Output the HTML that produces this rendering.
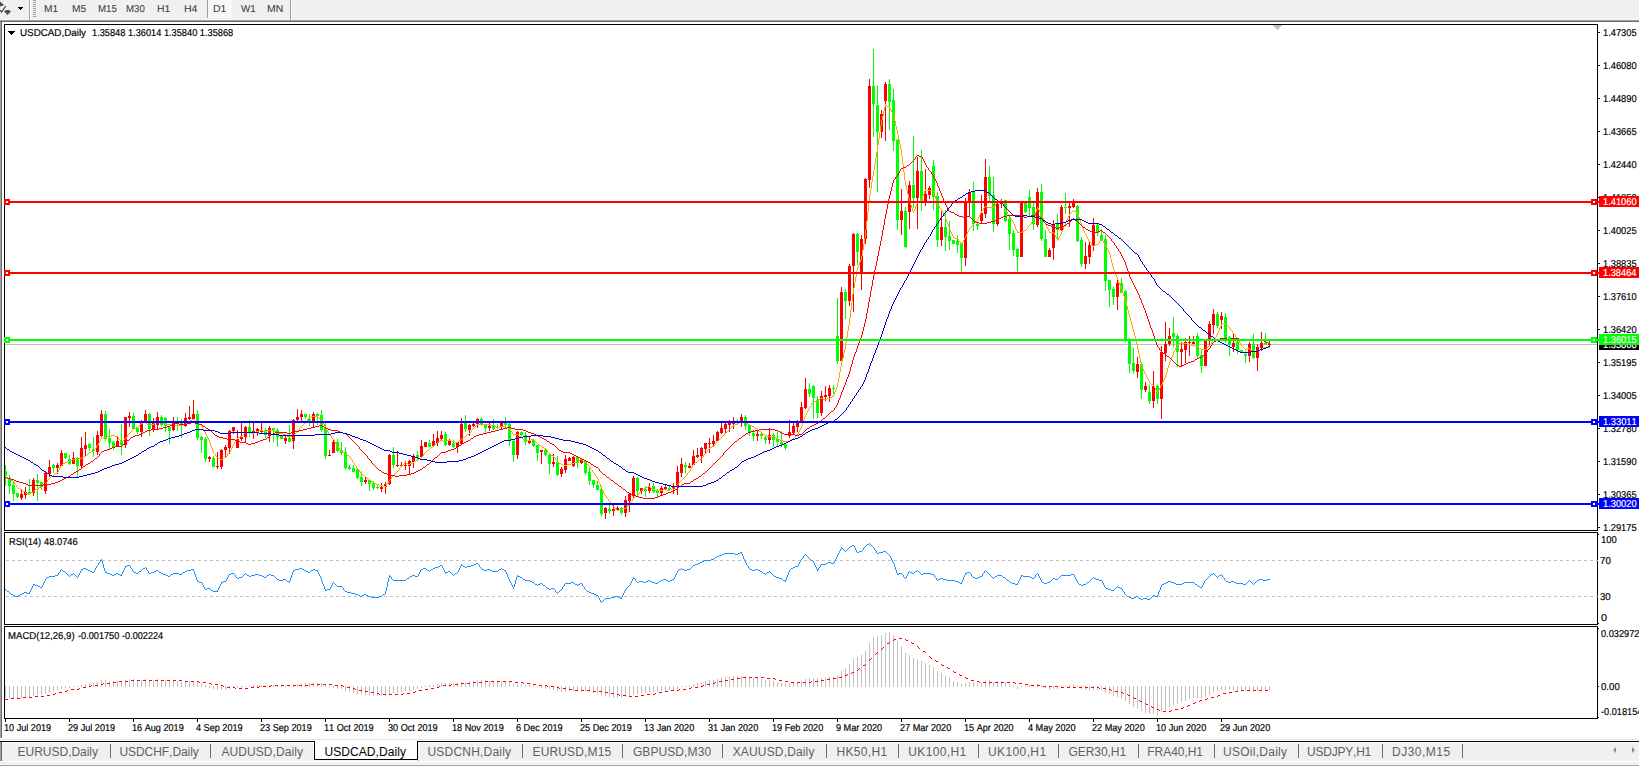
<!DOCTYPE html>
<html lang="en"><head><meta charset="utf-8"><title>USDCAD,Daily</title>
<style>
html,body{margin:0;padding:0;background:#fff;overflow:hidden}
body{font-kerning:none;width:1639px;height:767px;position:relative;overflow:hidden;font-family:"Liberation Sans",sans-serif;font-size:10px;color:#000}
.a{position:absolute;white-space:pre;line-height:12px;height:12px}
.g{font-size:10px;text-rendering:geometricPrecision;transform-origin:0 8px;-webkit-text-stroke:0.18px #000}
.tb{position:absolute;left:0;top:0;width:1639px;height:20px;background:#f0f0f0}
.sep{position:absolute;top:744px;width:1px;height:14px;background:#6d6d6d}
svg{position:absolute;left:0;top:0}
</style></head>
<body>

<div class="tb"></div>
<div style="position:absolute;left:0;top:19px;width:1639px;height:1px;background:#f7f7f7"></div>
<div style="position:absolute;left:0;top:20px;width:1639px;height:1px;background:#a0a0a0"></div>
<div style="position:absolute;left:0;top:21px;width:1639px;height:1px;background:#696969"></div>
<div style="position:absolute;left:0;top:22px;width:1px;height:716px;background:#a0a0a0"></div>
<div style="position:absolute;left:1px;top:22px;width:1px;height:716px;background:#696969"></div>
<div style="position:absolute;left:29px;top:0;width:1px;height:20px;background:#a0a0a0"></div>
<div style="position:absolute;left:30px;top:0;width:1px;height:20px;background:#fff"></div>
<div style="position:absolute;left:290px;top:0;width:1px;height:20px;background:#a0a0a0"></div>
<div style="position:absolute;left:291px;top:0;width:1px;height:20px;background:#fff"></div>
<div style="position:absolute;left:33px;top:0;width:3px;height:18px;background:repeating-linear-gradient(to bottom,#a0a0a0 0,#a0a0a0 1px,transparent 1px,transparent 2px)"></div>
<div style="position:absolute;left:207px;top:0;width:1px;height:18px;background:#a0a0a0"></div>
<div style="position:absolute;left:208px;top:0;width:24px;height:18px;background:#f8f8f8"></div>
<svg width="30" height="20" viewBox="0 0 30 20"><path d="M0 1.6 L4.2 5.2 L0 6.6Z" fill="#4d4d4d"/><path d="M0 10.2 L1.5 12 L5.8 6.2" fill="none" stroke="#3a3a3a" stroke-width="1.1"/><path d="M6 10 L9 10 L11 11.4 L7.5 15 L4 11.4Z" fill="#505050"/><path d="M18 7h5v1h-5zM19 8h3v1h-3zM20 9h1v1h-1z" fill="#000" shape-rendering="crispEdges"/></svg>
<svg width="1639" height="767" viewBox="0 0 1639 767" shape-rendering="crispEdges">
<rect x="5" y="344" width="1592" height="1" fill="#c0c0c0"/>
<path d="M1273 25h9v1h-9zM1274 26h7v1h-7zM1275 27h5v1h-5zM1276 28h3v1h-3zM1277 29h1v1h-1z" fill="#c0c0c0"/>
<path d="M5 465h1V486h-1ZM4 471h3V476h-3ZM9 475h1V494h-1ZM8 479h3V486h-3ZM13 482h1V501h-1ZM12 485h3V494h-3ZM17 493h1V498h-1ZM16 493h3V497h-3Z" fill="#00ff00"/>
<path d="M21 490h1V500h-1ZM20 494h3V498h-3ZM25 487h1V499h-1ZM24 492h3V495h-3Z" fill="#ff0000"/>
<path d="M29 479h1V495h-1ZM28 492h3V494h-3Z" fill="#00ff00"/>
<path d="M33 478h1V496h-1ZM32 480h3V493h-3Z" fill="#ff0000"/>
<path d="M37 474h1V501h-1ZM36 480h3V483h-3ZM41 482h1V490h-1ZM40 482h3V487h-3Z" fill="#00ff00"/>
<path d="M45 471h1V494h-1ZM44 473h3V491h-3ZM49 460h1V477h-1ZM48 467h3V474h-3Z" fill="#ff0000"/>
<path d="M53 464h1V473h-1ZM52 465h3V468h-3Z" fill="#00ff00"/>
<path d="M57 463h1V474h-1ZM56 465h3V468h-3ZM61 450h1V466h-1ZM60 453h3V466h-3Z" fill="#ff0000"/>
<path d="M65 453h1V459h-1ZM64 453h3V458h-3ZM69 455h1V465h-1ZM68 459h3V464h-3Z" fill="#00ff00"/>
<path d="M73 452h1V464h-1ZM72 458h3V464h-3Z" fill="#ff0000"/>
<path d="M77 457h1V477h-1ZM76 458h3V466h-3Z" fill="#00ff00"/>
<path d="M81 437h1V468h-1ZM80 448h3V466h-3ZM85 432h1V456h-1ZM84 445h3V449h-3Z" fill="#ff0000"/>
<path d="M89 443h1V451h-1ZM88 444h3V448h-3ZM93 437h1V457h-1ZM92 449h3V451h-3Z" fill="#00ff00"/>
<path d="M97 431h1V455h-1ZM96 435h3V452h-3ZM101 410h1V437h-1ZM100 414h3V436h-3Z" fill="#ff0000"/>
<path d="M105 411h1V441h-1ZM104 414h3V439h-3ZM109 429h1V449h-1ZM108 438h3V443h-3ZM113 441h1V450h-1ZM112 442h3V447h-3Z" fill="#00ff00"/>
<path d="M117 436h1V447h-1ZM116 441h3V447h-3Z" fill="#ff0000"/>
<path d="M121 424h1V455h-1ZM120 442h3V445h-3Z" fill="#00ff00"/>
<path d="M125 417h1V448h-1ZM124 417h3V445h-3ZM129 412h1V427h-1ZM128 416h3V418h-3Z" fill="#ff0000"/>
<path d="M133 413h1V429h-1ZM132 416h3V429h-3ZM137 427h1V434h-1ZM136 428h3V432h-3Z" fill="#00ff00"/>
<path d="M141 420h1V437h-1ZM140 423h3V432h-3ZM145 410h1V423h-1ZM144 414h3V423h-3Z" fill="#ff0000"/>
<path d="M149 413h1V436h-1ZM148 414h3V429h-3Z" fill="#00ff00"/>
<path d="M153 418h1V432h-1ZM152 423h3V429h-3ZM157 412h1V429h-1ZM156 417h3V425h-3Z" fill="#ff0000"/>
<path d="M161 415h1V427h-1ZM160 417h3V425h-3ZM165 417h1V432h-1ZM164 418h3V426h-3ZM169 426h1V444h-1ZM168 427h3V431h-3Z" fill="#00ff00"/>
<path d="M173 417h1V431h-1ZM172 423h3V430h-3Z" fill="#ff0000"/>
<path d="M177 417h1V431h-1ZM176 423h3V424h-3ZM181 419h1V438h-1ZM180 423h3V425h-3Z" fill="#00ff00"/>
<path d="M185 413h1V427h-1ZM184 418h3V426h-3ZM189 406h1V420h-1ZM188 417h3V419h-3ZM193 400h1V419h-1ZM192 414h3V419h-3Z" fill="#ff0000"/>
<path d="M197 410h1V440h-1ZM196 414h3V438h-3ZM201 436h1V453h-1ZM200 437h3V440h-3ZM205 437h1V462h-1ZM204 439h3V459h-3Z" fill="#00ff00"/>
<path d="M209 456h1V462h-1ZM208 457h3V459h-3Z" fill="#ff0000"/>
<path d="M213 456h1V467h-1ZM212 458h3V467h-3Z" fill="#00ff00"/>
<path d="M217 452h1V469h-1ZM216 466h3V467h-3ZM221 449h1V469h-1ZM220 450h3V467h-3ZM225 445h1V457h-1ZM224 447h3V450h-3ZM229 430h1V454h-1ZM228 431h3V448h-3ZM233 427h1V434h-1ZM232 427h3V431h-3ZM237 430h1V448h-1ZM236 439h3V448h-3ZM241 423h1V441h-1ZM240 437h3V439h-3ZM245 426h1V442h-1ZM244 427h3V437h-3Z" fill="#ff0000"/>
<path d="M249 420h1V437h-1ZM248 427h3V433h-3Z" fill="#00ff00"/>
<path d="M253 423h1V439h-1ZM252 431h3V433h-3ZM257 428h1V436h-1ZM256 429h3V431h-3ZM261 423h1V433h-1ZM260 430h3V432h-3Z" fill="#ff0000"/>
<path d="M265 428h1V438h-1ZM264 430h3V435h-3Z" fill="#00ff00"/>
<path d="M269 426h1V442h-1ZM268 428h3V436h-3Z" fill="#ff0000"/>
<path d="M273 428h1V442h-1ZM272 428h3V430h-3ZM277 428h1V447h-1ZM276 430h3V437h-3ZM281 435h1V439h-1ZM280 436h3V439h-3Z" fill="#00ff00"/>
<path d="M285 436h1V444h-1ZM284 438h3V441h-3Z" fill="#ff0000"/>
<path d="M289 425h1V442h-1ZM288 438h3V442h-3Z" fill="#00ff00"/>
<path d="M293 419h1V449h-1ZM292 420h3V441h-3ZM297 409h1V421h-1ZM296 417h3V420h-3ZM301 410h1V423h-1ZM300 414h3V417h-3Z" fill="#ff0000"/>
<path d="M305 414h1V419h-1ZM304 414h3V417h-3ZM309 414h1V426h-1ZM308 419h3V421h-3Z" fill="#00ff00"/>
<path d="M313 412h1V427h-1ZM312 414h3V421h-3Z" fill="#ff0000"/>
<path d="M317 413h1V425h-1ZM316 414h3V416h-3ZM321 410h1V432h-1ZM320 415h3V430h-3ZM325 423h1V459h-1ZM324 428h3V456h-3Z" fill="#00ff00"/>
<path d="M329 450h1V456h-1ZM328 455h3V456h-3ZM333 440h1V453h-1ZM332 442h3V453h-3Z" fill="#ff0000"/>
<path d="M337 439h1V452h-1ZM336 442h3V451h-3ZM341 442h1V455h-1ZM340 450h3V453h-3ZM345 447h1V470h-1ZM344 452h3V468h-3ZM349 465h1V470h-1ZM348 467h3V469h-3ZM353 465h1V472h-1ZM352 468h3V472h-3ZM357 468h1V479h-1ZM356 469h3V478h-3ZM361 471h1V486h-1ZM360 477h3V482h-3Z" fill="#00ff00"/>
<path d="M365 476h1V484h-1ZM364 480h3V482h-3Z" fill="#ff0000"/>
<path d="M369 479h1V491h-1ZM368 480h3V484h-3ZM373 481h1V490h-1ZM372 483h3V488h-3ZM377 485h1V489h-1ZM376 487h3V488h-3Z" fill="#00ff00"/>
<path d="M381 483h1V492h-1ZM380 487h3V489h-3ZM385 482h1V494h-1ZM384 484h3V487h-3ZM389 454h1V485h-1ZM388 455h3V484h-3Z" fill="#ff0000"/>
<path d="M393 447h1V468h-1ZM392 455h3V465h-3Z" fill="#00ff00"/>
<path d="M397 451h1V467h-1ZM396 465h3V466h-3ZM401 462h1V467h-1ZM400 465h3V466h-3ZM405 461h1V470h-1ZM404 465h3V466h-3ZM409 460h1V474h-1ZM408 461h3V466h-3ZM413 454h1V468h-1ZM412 456h3V462h-3Z" fill="#ff0000"/>
<path d="M417 451h1V461h-1ZM416 455h3V458h-3Z" fill="#00ff00"/>
<path d="M421 440h1V458h-1ZM420 446h3V457h-3ZM425 442h1V447h-1ZM424 442h3V447h-3Z" fill="#ff0000"/>
<path d="M429 440h1V447h-1ZM428 443h3V447h-3Z" fill="#00ff00"/>
<path d="M433 434h1V446h-1ZM432 441h3V446h-3ZM437 431h1V446h-1ZM436 438h3V443h-3ZM441 431h1V440h-1ZM440 435h3V439h-3Z" fill="#ff0000"/>
<path d="M445 432h1V446h-1ZM444 434h3V445h-3Z" fill="#00ff00"/>
<path d="M449 439h1V446h-1ZM448 441h3V445h-3Z" fill="#ff0000"/>
<path d="M453 440h1V448h-1ZM452 443h3V447h-3Z" fill="#00ff00"/>
<path d="M457 442h1V453h-1ZM456 442h3V447h-3ZM461 418h1V444h-1ZM460 424h3V444h-3Z" fill="#ff0000"/>
<path d="M465 415h1V432h-1ZM464 423h3V429h-3Z" fill="#00ff00"/>
<path d="M469 424h1V436h-1ZM468 425h3V430h-3ZM473 423h1V427h-1ZM472 424h3V426h-3ZM477 418h1V428h-1ZM476 419h3V424h-3Z" fill="#ff0000"/>
<path d="M481 417h1V426h-1ZM480 419h3V425h-3ZM485 425h1V433h-1ZM484 425h3V428h-3Z" fill="#00ff00"/>
<path d="M489 423h1V431h-1ZM488 426h3V428h-3Z" fill="#ff0000"/>
<path d="M493 419h1V430h-1ZM492 425h3V429h-3ZM497 424h1V429h-1ZM496 427h3V428h-3Z" fill="#00ff00"/>
<path d="M501 423h1V429h-1ZM500 423h3V426h-3Z" fill="#ff0000"/>
<path d="M505 417h1V428h-1ZM504 423h3V425h-3ZM509 423h1V446h-1ZM508 424h3V440h-3ZM513 440h1V462h-1ZM512 441h3V455h-3Z" fill="#00ff00"/>
<path d="M517 431h1V459h-1ZM516 432h3V455h-3Z" fill="#ff0000"/>
<path d="M521 431h1V436h-1ZM520 432h3V435h-3ZM525 432h1V445h-1ZM524 435h3V442h-3Z" fill="#00ff00"/>
<path d="M529 437h1V444h-1ZM528 441h3V443h-3Z" fill="#ff0000"/>
<path d="M533 439h1V447h-1ZM532 440h3V446h-3ZM537 445h1V461h-1ZM536 445h3V453h-3Z" fill="#00ff00"/>
<path d="M541 450h1V464h-1ZM540 450h3V452h-3Z" fill="#ff0000"/>
<path d="M545 449h1V456h-1ZM544 450h3V455h-3ZM549 454h1V474h-1ZM548 455h3V464h-3Z" fill="#00ff00"/>
<path d="M553 454h1V467h-1ZM552 462h3V464h-3Z" fill="#ff0000"/>
<path d="M557 456h1V476h-1ZM556 462h3V475h-3Z" fill="#00ff00"/>
<path d="M561 467h1V477h-1ZM560 469h3V474h-3ZM565 455h1V473h-1ZM564 459h3V470h-3ZM569 457h1V461h-1ZM568 458h3V461h-3ZM573 456h1V467h-1ZM572 457h3V466h-3Z" fill="#ff0000"/>
<path d="M577 457h1V468h-1ZM576 457h3V463h-3Z" fill="#00ff00"/>
<path d="M581 459h1V464h-1ZM580 460h3V463h-3Z" fill="#ff0000"/>
<path d="M585 461h1V475h-1ZM584 462h3V473h-3ZM589 468h1V485h-1ZM588 472h3V481h-3ZM593 480h1V488h-1ZM592 480h3V485h-3ZM597 481h1V490h-1ZM596 485h3V490h-3ZM601 486h1V516h-1ZM600 489h3V514h-3Z" fill="#00ff00"/>
<path d="M605 507h1V519h-1ZM604 508h3V513h-3Z" fill="#ff0000"/>
<path d="M609 503h1V514h-1ZM608 509h3V511h-3Z" fill="#00ff00"/>
<path d="M613 505h1V516h-1ZM612 509h3V511h-3ZM617 506h1V511h-1ZM616 508h3V510h-3Z" fill="#ff0000"/>
<path d="M621 507h1V515h-1ZM620 508h3V513h-3Z" fill="#00ff00"/>
<path d="M625 496h1V517h-1ZM624 500h3V513h-3ZM629 493h1V512h-1ZM628 494h3V501h-3ZM633 476h1V498h-1ZM632 478h3V496h-3Z" fill="#ff0000"/>
<path d="M637 477h1V495h-1ZM636 478h3V491h-3Z" fill="#00ff00"/>
<path d="M641 488h1V494h-1ZM640 488h3V491h-3Z" fill="#ff0000"/>
<path d="M645 486h1V497h-1ZM644 489h3V491h-3Z" fill="#00ff00"/>
<path d="M649 483h1V493h-1ZM648 487h3V491h-3Z" fill="#ff0000"/>
<path d="M653 483h1V493h-1ZM652 486h3V492h-3ZM657 489h1V497h-1ZM656 490h3V493h-3Z" fill="#00ff00"/>
<path d="M661 486h1V496h-1ZM660 488h3V493h-3ZM665 485h1V489h-1ZM664 487h3V489h-3Z" fill="#ff0000"/>
<path d="M669 486h1V490h-1ZM668 488h3V490h-3Z" fill="#00ff00"/>
<path d="M673 483h1V494h-1ZM672 487h3V489h-3ZM677 466h1V495h-1ZM676 472h3V487h-3ZM681 458h1V477h-1ZM680 464h3V473h-3Z" fill="#ff0000"/>
<path d="M685 462h1V473h-1ZM684 465h3V467h-3Z" fill="#00ff00"/>
<path d="M689 463h1V468h-1ZM688 466h3V468h-3ZM693 450h1V465h-1ZM692 456h3V465h-3ZM697 448h1V458h-1ZM696 455h3V457h-3ZM701 447h1V463h-1ZM700 448h3V456h-3ZM705 443h1V453h-1ZM704 443h3V449h-3ZM709 438h1V453h-1ZM708 443h3V444h-3ZM713 435h1V446h-1ZM712 441h3V444h-3ZM717 431h1V441h-1ZM716 432h3V441h-3ZM721 423h1V434h-1ZM720 428h3V433h-3ZM725 423h1V434h-1ZM724 424h3V429h-3ZM729 420h1V432h-1ZM728 423h3V425h-3ZM733 417h1V429h-1ZM732 422h3V424h-3Z" fill="#ff0000"/>
<path d="M737 419h1V424h-1ZM736 422h3V423h-3Z" fill="#00ff00"/>
<path d="M741 414h1V427h-1ZM740 417h3V423h-3Z" fill="#ff0000"/>
<path d="M745 415h1V430h-1ZM744 417h3V426h-3ZM749 424h1V436h-1ZM748 425h3V433h-3ZM753 430h1V441h-1ZM752 433h3V436h-3Z" fill="#00ff00"/>
<path d="M757 429h1V441h-1ZM756 434h3V436h-3Z" fill="#ff0000"/>
<path d="M761 433h1V439h-1ZM760 434h3V436h-3ZM765 436h1V444h-1ZM764 437h3V440h-3Z" fill="#00ff00"/>
<path d="M769 428h1V444h-1ZM768 435h3V440h-3Z" fill="#ff0000"/>
<path d="M773 433h1V447h-1ZM772 435h3V440h-3ZM777 432h1V446h-1ZM776 439h3V442h-3ZM781 431h1V447h-1ZM780 442h3V444h-3ZM785 444h1V450h-1ZM784 444h3V448h-3Z" fill="#00ff00"/>
<path d="M789 420h1V438h-1ZM788 432h3V436h-3ZM793 423h1V435h-1ZM792 426h3V433h-3ZM797 420h1V432h-1ZM796 423h3V427h-3ZM801 402h1V423h-1ZM800 407h3V423h-3ZM805 378h1V409h-1ZM804 389h3V408h-3Z" fill="#ff0000"/>
<path d="M809 383h1V397h-1ZM808 389h3V394h-3ZM813 385h1V419h-1ZM812 386h3V398h-3ZM817 396h1V418h-1ZM816 400h3V413h-3Z" fill="#00ff00"/>
<path d="M821 391h1V416h-1ZM820 396h3V413h-3ZM825 386h1V401h-1ZM824 395h3V397h-3ZM829 385h1V402h-1ZM828 388h3V396h-3Z" fill="#ff0000"/>
<path d="M833 385h1V394h-1ZM832 388h3V389h-3ZM837 298h1V364h-1ZM836 336h3V361h-3Z" fill="#00ff00"/>
<path d="M841 287h1V361h-1ZM840 292h3V361h-3Z" fill="#ff0000"/>
<path d="M845 289h1V319h-1ZM844 292h3V301h-3Z" fill="#00ff00"/>
<path d="M849 264h1V306h-1ZM848 266h3V301h-3ZM853 233h1V312h-1ZM852 234h3V266h-3Z" fill="#ff0000"/>
<path d="M857 233h1V265h-1ZM856 234h3V252h-3Z" fill="#00ff00"/>
<path d="M861 235h1V290h-1ZM860 239h3V272h-3ZM865 178h1V244h-1ZM864 179h3V239h-3ZM869 79h1V188h-1ZM868 86h3V180h-3Z" fill="#ff0000"/>
<path d="M873 49h1V137h-1ZM872 86h3V104h-3ZM877 85h1V192h-1ZM876 105h3V132h-3Z" fill="#00ff00"/>
<path d="M881 110h1V138h-1ZM880 114h3V132h-3ZM885 82h1V141h-1ZM884 84h3V101h-3Z" fill="#ff0000"/>
<path d="M889 79h1V130h-1ZM888 84h3V102h-3ZM893 89h1V151h-1ZM892 100h3V141h-3ZM897 139h1V230h-1ZM896 140h3V220h-3Z" fill="#00ff00"/>
<path d="M901 189h1V235h-1ZM900 211h3V220h-3Z" fill="#ff0000"/>
<path d="M905 207h1V248h-1ZM904 211h3V247h-3Z" fill="#00ff00"/>
<path d="M909 181h1V229h-1ZM908 185h3V212h-3Z" fill="#ff0000"/>
<path d="M913 136h1V208h-1ZM912 185h3V198h-3Z" fill="#00ff00"/>
<path d="M917 157h1V229h-1ZM916 171h3V198h-3Z" fill="#ff0000"/>
<path d="M921 150h1V211h-1ZM920 171h3V201h-3Z" fill="#00ff00"/>
<path d="M925 169h1V206h-1ZM924 194h3V201h-3ZM929 186h1V199h-1ZM928 188h3V195h-3Z" fill="#ff0000"/>
<path d="M933 160h1V210h-1ZM932 166h3V197h-3ZM937 192h1V247h-1ZM936 196h3V240h-3Z" fill="#00ff00"/>
<path d="M941 211h1V246h-1ZM940 227h3V240h-3Z" fill="#ff0000"/>
<path d="M945 210h1V251h-1ZM944 227h3V237h-3ZM949 221h1V250h-1ZM948 236h3V241h-3ZM953 240h1V244h-1ZM952 240h3V244h-3ZM957 235h1V253h-1ZM956 241h3V245h-3ZM961 243h1V272h-1ZM960 244h3V258h-3Z" fill="#00ff00"/>
<path d="M965 198h1V266h-1ZM964 201h3V258h-3ZM969 189h1V216h-1ZM968 193h3V201h-3Z" fill="#ff0000"/>
<path d="M973 182h1V231h-1ZM972 191h3V224h-3ZM977 223h1V230h-1ZM976 224h3V226h-3Z" fill="#00ff00"/>
<path d="M981 195h1V224h-1ZM980 213h3V221h-3ZM985 159h1V218h-1ZM984 177h3V214h-3Z" fill="#ff0000"/>
<path d="M989 166h1V201h-1ZM988 177h3V196h-3ZM993 177h1V232h-1ZM992 195h3V224h-3Z" fill="#00ff00"/>
<path d="M997 203h1V226h-1ZM996 204h3V224h-3ZM1001 199h1V208h-1ZM1000 201h3V204h-3Z" fill="#ff0000"/>
<path d="M1005 200h1V222h-1ZM1004 200h3V221h-3ZM1009 217h1V250h-1ZM1008 219h3V234h-3ZM1013 230h1V256h-1ZM1012 233h3V250h-3ZM1017 248h1V272h-1ZM1016 249h3V257h-3Z" fill="#00ff00"/>
<path d="M1021 202h1V257h-1ZM1020 202h3V257h-3Z" fill="#ff0000"/>
<path d="M1025 203h1V213h-1ZM1024 203h3V212h-3ZM1029 190h1V216h-1ZM1028 197h3V208h-3ZM1033 203h1V230h-1ZM1032 207h3V224h-3Z" fill="#00ff00"/>
<path d="M1037 188h1V227h-1ZM1036 192h3V225h-3Z" fill="#ff0000"/>
<path d="M1041 184h1V241h-1ZM1040 192h3V239h-3ZM1045 230h1V257h-1ZM1044 239h3V257h-3Z" fill="#00ff00"/>
<path d="M1049 248h1V257h-1ZM1048 250h3V257h-3ZM1053 220h1V260h-1ZM1052 224h3V248h-3Z" fill="#ff0000"/>
<path d="M1057 214h1V240h-1ZM1056 224h3V230h-3Z" fill="#00ff00"/>
<path d="M1061 205h1V231h-1ZM1060 207h3V230h-3Z" fill="#ff0000"/>
<path d="M1065 193h1V214h-1ZM1064 207h3V208h-3Z" fill="#00ff00"/>
<path d="M1069 203h1V227h-1ZM1068 206h3V208h-3ZM1073 199h1V208h-1ZM1072 203h3V207h-3Z" fill="#ff0000"/>
<path d="M1077 205h1V242h-1ZM1076 206h3V241h-3ZM1081 237h1V267h-1ZM1080 240h3V264h-3Z" fill="#00ff00"/>
<path d="M1085 242h1V269h-1ZM1084 256h3V264h-3ZM1089 241h1V264h-1ZM1088 245h3V257h-3ZM1093 218h1V251h-1ZM1092 225h3V245h-3Z" fill="#ff0000"/>
<path d="M1097 224h1V236h-1ZM1096 225h3V233h-3ZM1101 229h1V241h-1ZM1100 235h3V240h-3ZM1105 235h1V291h-1ZM1104 239h3V281h-3ZM1109 280h1V307h-1ZM1108 280h3V290h-3ZM1113 287h1V305h-1ZM1112 289h3V297h-3Z" fill="#00ff00"/>
<path d="M1117 279h1V310h-1ZM1116 283h3V297h-3Z" fill="#ff0000"/>
<path d="M1121 278h1V293h-1ZM1120 283h3V293h-3ZM1125 290h1V342h-1ZM1124 291h3V340h-3ZM1129 338h1V373h-1ZM1128 339h3V364h-3ZM1133 348h1V374h-1ZM1132 363h3V371h-3Z" fill="#00ff00"/>
<path d="M1137 357h1V378h-1ZM1136 364h3V372h-3Z" fill="#ff0000"/>
<path d="M1141 362h1V399h-1ZM1140 364h3V390h-3Z" fill="#00ff00"/>
<path d="M1145 382h1V392h-1ZM1144 386h3V390h-3Z" fill="#ff0000"/>
<path d="M1149 385h1V404h-1ZM1148 392h3V401h-3Z" fill="#00ff00"/>
<path d="M1153 371h1V408h-1ZM1152 386h3V401h-3Z" fill="#ff0000"/>
<path d="M1157 385h1V404h-1ZM1156 386h3V399h-3Z" fill="#00ff00"/>
<path d="M1161 346h1V419h-1ZM1160 352h3V399h-3ZM1165 322h1V361h-1ZM1164 344h3V353h-3ZM1169 328h1V346h-1ZM1168 336h3V344h-3Z" fill="#ff0000"/>
<path d="M1173 317h1V347h-1ZM1172 333h3V337h-3ZM1177 334h1V367h-1ZM1176 336h3V352h-3Z" fill="#00ff00"/>
<path d="M1181 342h1V367h-1ZM1180 349h3V352h-3ZM1185 338h1V363h-1ZM1184 342h3V350h-3ZM1189 336h1V356h-1ZM1188 342h3V343h-3ZM1193 336h1V344h-1ZM1192 342h3V344h-3Z" fill="#ff0000"/>
<path d="M1197 333h1V358h-1ZM1196 336h3V356h-3ZM1201 349h1V373h-1ZM1200 355h3V366h-3Z" fill="#00ff00"/>
<path d="M1205 340h1V366h-1ZM1204 341h3V366h-3ZM1209 321h1V345h-1ZM1208 324h3V341h-3ZM1213 309h1V334h-1ZM1212 314h3V325h-3Z" fill="#ff0000"/>
<path d="M1217 312h1V328h-1ZM1216 314h3V326h-3Z" fill="#00ff00"/>
<path d="M1221 312h1V329h-1ZM1220 316h3V320h-3Z" fill="#ff0000"/>
<path d="M1225 313h1V343h-1ZM1224 317h3V338h-3ZM1229 336h1V356h-1ZM1228 337h3V345h-3Z" fill="#00ff00"/>
<path d="M1233 334h1V352h-1ZM1232 343h3V347h-3Z" fill="#ff0000"/>
<path d="M1237 340h1V354h-1ZM1236 342h3V350h-3ZM1241 350h1V352h-1ZM1240 350h3V352h-3ZM1245 351h1V363h-1ZM1244 354h3V356h-3Z" fill="#00ff00"/>
<path d="M1249 342h1V362h-1ZM1248 344h3V356h-3Z" fill="#ff0000"/>
<path d="M1253 334h1V359h-1ZM1252 344h3V358h-3Z" fill="#00ff00"/>
<path d="M1257 344h1V371h-1ZM1256 347h3V358h-3ZM1261 332h1V351h-1ZM1260 343h3V348h-3Z" fill="#ff0000"/>
<path d="M1265 333h1V345h-1ZM1264 343h3V345h-3Z" fill="#00ff00"/>
<path d="M1269 341h1V346h-1ZM1268 344h3V345h-3Z" fill="#ff0000"/>
<path d="M5 476h1v1h-1zM6 477h1v1h-1zM7 477h1v1h-1zM8 478h1v1h-1zM9 478h1v1h-1zM10 479h1v1h-1zM11 480h1v1h-1zM12 480h1v1h-1zM13 481h1v1h-1zM14 482h1v2h-1zM15 484h1v1h-1zM16 485h1v2h-1zM17 487h1v1h-1zM18 488h1v1h-1zM19 488h1v1h-1zM20 489h1v1h-1zM21 489h1v1h-1zM22 490h1v1h-1zM23 491h1v1h-1zM24 491h1v1h-1zM25 492h1v1h-1zM26 493h1v1h-1zM27 493h1v1h-1zM28 494h1v1h-1zM29 494h1v1h-1zM30 493h1v1h-1zM31 492h1v1h-1zM32 492h1v1h-1zM33 491h1v1h-1zM34 490h1v1h-1zM35 489h1v1h-1zM36 489h1v1h-1zM37 488h1v1h-1zM38 488h1v1h-1zM39 487h1v1h-1zM40 487h1v1h-1zM41 487h1v1h-1zM42 486h1v1h-1zM43 485h1v1h-1zM44 484h1v1h-1zM45 483h1v1h-1zM46 482h1v1h-1zM47 480h1v2h-1zM48 479h1v1h-1zM49 478h1v1h-1zM50 477h1v1h-1zM51 476h1v1h-1zM52 476h1v1h-1zM53 475h1v1h-1zM54 474h1v1h-1zM55 473h1v1h-1zM56 473h1v1h-1zM57 472h1v1h-1zM58 470h1v2h-1zM59 468h1v2h-1zM60 466h1v2h-1zM61 465h1v1h-1zM62 464h1v1h-1zM63 463h1v1h-1zM64 463h1v1h-1zM65 462h1v1h-1zM66 462h1v1h-1zM67 461h1v1h-1zM68 461h1v1h-1zM69 461h1v1h-1zM70 460h1v1h-1zM71 460h1v1h-1zM72 459h1v1h-1zM73 459h1v1h-1zM74 459h1v1h-1zM75 459h1v1h-1zM76 459h1v1h-1zM77 459h1v1h-1zM78 459h1v1h-1zM79 458h1v1h-1zM80 458h1v1h-1zM81 458h1v1h-1zM82 457h1v1h-1zM83 457h1v1h-1zM84 456h1v1h-1zM85 456h1v1h-1zM86 455h1v1h-1zM87 454h1v1h-1zM88 453h1v1h-1zM89 452h1v1h-1zM90 452h1v1h-1zM91 451h1v1h-1zM92 451h1v1h-1zM93 451h1v1h-1zM94 449h1v2h-1zM95 448h1v1h-1zM96 446h1v2h-1zM97 445h1v1h-1zM98 443h1v2h-1zM99 441h1v2h-1zM100 439h1v2h-1zM101 438h1v1h-1zM102 438h1v1h-1zM103 437h1v1h-1zM104 437h1v1h-1zM105 437h1v1h-1zM106 437h1v1h-1zM107 436h1v1h-1zM108 436h1v1h-1zM109 436h1v1h-1zM110 436h1v1h-1zM111 435h1v1h-1zM112 435h1v1h-1zM113 435h1v1h-1zM114 435h1v1h-1zM115 436h1v1h-1zM116 436h1v1h-1zM117 436h1v1h-1zM118 437h1v2h-1zM119 439h1v1h-1zM120 440h1v2h-1zM121 442h1v1h-1zM122 441h1v1h-1zM123 440h1v1h-1zM124 439h1v1h-1zM125 438h1v1h-1zM126 437h1v1h-1zM127 435h1v2h-1zM128 434h1v1h-1zM129 433h1v1h-1zM130 432h1v1h-1zM131 431h1v1h-1zM132 430h1v1h-1zM133 429h1v1h-1zM134 428h1v1h-1zM135 428h1v1h-1zM136 427h1v1h-1zM137 427h1v1h-1zM138 426h1v1h-1zM139 425h1v1h-1zM140 424h1v1h-1zM141 423h1v1h-1zM142 423h1v1h-1zM143 422h1v1h-1zM144 422h1v1h-1zM145 422h1v1h-1zM146 423h1v1h-1zM147 424h1v1h-1zM148 424h1v1h-1zM149 425h1v1h-1zM150 425h1v1h-1zM151 424h1v1h-1zM152 424h1v1h-1zM153 424h1v1h-1zM154 423h1v1h-1zM155 422h1v1h-1zM156 422h1v1h-1zM157 421h1v1h-1zM158 421h1v1h-1zM159 421h1v1h-1zM160 421h1v1h-1zM161 421h1v1h-1zM162 422h1v1h-1zM163 423h1v1h-1zM164 423h1v1h-1zM165 424h1v1h-1zM166 424h1v1h-1zM167 424h1v1h-1zM168 424h1v1h-1zM169 424h1v1h-1zM170 424h1v1h-1zM171 424h1v1h-1zM172 424h1v1h-1zM173 424h1v1h-1zM174 424h1v1h-1zM175 425h1v1h-1zM176 425h1v1h-1zM177 425h1v1h-1zM178 425h1v1h-1zM179 425h1v1h-1zM180 425h1v1h-1zM181 425h1v1h-1zM182 425h1v1h-1zM183 424h1v1h-1zM184 424h1v1h-1zM185 424h1v1h-1zM186 423h1v1h-1zM187 422h1v1h-1zM188 422h1v1h-1zM189 421h1v1h-1zM190 420h1v1h-1zM191 420h1v1h-1zM192 419h1v1h-1zM193 419h1v1h-1zM194 420h1v1h-1zM195 421h1v1h-1zM196 421h1v1h-1zM197 422h1v1h-1zM198 423h1v1h-1zM199 424h1v1h-1zM200 424h1v1h-1zM201 425h1v1h-1zM202 426h1v2h-1zM203 428h1v2h-1zM204 430h1v2h-1zM205 432h1v2h-1zM206 434h1v2h-1zM207 436h1v2h-1zM208 438h1v2h-1zM209 440h1v3h-1zM210 443h1v3h-1zM211 446h1v2h-1zM212 448h1v3h-1zM213 451h1v2h-1zM214 453h1v1h-1zM215 454h1v2h-1zM216 456h1v1h-1zM217 457h1v1h-1zM218 458h1v1h-1zM219 458h1v1h-1zM220 459h1v1h-1zM221 459h1v1h-1zM222 458h1v1h-1zM223 458h1v1h-1zM224 457h1v1h-1zM225 457h1v1h-1zM226 456h1v1h-1zM227 454h1v2h-1zM228 453h1v1h-1zM229 452h1v1h-1zM230 450h1v2h-1zM231 448h1v2h-1zM232 446h1v2h-1zM233 444h1v2h-1zM234 442h1v2h-1zM235 441h1v1h-1zM236 439h1v2h-1zM237 438h1v1h-1zM238 437h1v1h-1zM239 437h1v1h-1zM240 436h1v1h-1zM241 436h1v1h-1zM242 435h1v1h-1zM243 434h1v1h-1zM244 433h1v1h-1zM245 432h1v1h-1zM246 432h1v1h-1zM247 432h1v1h-1zM248 432h1v1h-1zM249 432h1v1h-1zM250 432h1v1h-1zM251 433h1v1h-1zM252 433h1v1h-1zM253 433h1v1h-1zM254 432h1v1h-1zM255 432h1v1h-1zM256 431h1v1h-1zM257 431h1v1h-1zM258 431h1v1h-1zM259 430h1v1h-1zM260 430h1v1h-1zM261 430h1v1h-1zM262 430h1v1h-1zM263 431h1v1h-1zM264 431h1v1h-1zM265 431h1v1h-1zM266 431h1v1h-1zM267 430h1v1h-1zM268 430h1v1h-1zM269 430h1v1h-1zM270 430h1v1h-1zM271 430h1v1h-1zM272 430h1v1h-1zM273 430h1v1h-1zM274 431h1v1h-1zM275 431h1v1h-1zM276 432h1v1h-1zM277 432h1v1h-1zM278 432h1v1h-1zM279 433h1v1h-1zM280 433h1v1h-1zM281 433h1v1h-1zM282 433h1v1h-1zM283 434h1v1h-1zM284 434h1v1h-1zM285 434h1v1h-1zM286 435h1v1h-1zM287 436h1v1h-1zM288 436h1v1h-1zM289 437h1v1h-1zM290 436h1v1h-1zM291 436h1v1h-1zM292 435h1v1h-1zM293 435h1v1h-1zM294 434h1v1h-1zM295 433h1v1h-1zM296 432h1v1h-1zM297 431h1v1h-1zM298 430h1v1h-1zM299 428h1v2h-1zM300 427h1v1h-1zM301 426h1v1h-1zM302 425h1v1h-1zM303 424h1v1h-1zM304 423h1v1h-1zM305 422h1v1h-1zM306 421h1v1h-1zM307 419h1v2h-1zM308 418h1v1h-1zM309 417h1v1h-1zM310 417h1v1h-1zM311 416h1v1h-1zM312 416h1v1h-1zM313 416h1v1h-1zM314 416h1v1h-1zM315 416h1v1h-1zM316 416h1v1h-1zM317 416h1v1h-1zM318 417h1v1h-1zM319 418h1v1h-1zM320 418h1v1h-1zM321 419h1v1h-1zM322 420h1v2h-1zM323 422h1v2h-1zM324 424h1v2h-1zM325 426h1v2h-1zM326 428h1v2h-1zM327 430h1v2h-1zM328 432h1v2h-1zM329 434h1v1h-1zM330 435h1v1h-1zM331 436h1v2h-1zM332 438h1v1h-1zM333 439h1v1h-1zM334 440h1v2h-1zM335 442h1v2h-1zM336 444h1v2h-1zM337 446h1v1h-1zM338 447h1v1h-1zM339 448h1v2h-1zM340 450h1v1h-1zM341 451h1v1h-1zM342 452h1v1h-1zM343 452h1v1h-1zM344 453h1v1h-1zM345 453h1v1h-1zM346 454h1v1h-1zM347 455h1v1h-1zM348 455h1v1h-1zM349 456h1v1h-1zM350 457h1v2h-1zM351 459h1v1h-1zM352 460h1v2h-1zM353 462h1v1h-1zM354 463h1v2h-1zM355 465h1v1h-1zM356 466h1v2h-1zM357 468h1v1h-1zM358 469h1v1h-1zM359 470h1v2h-1zM360 472h1v1h-1zM361 473h1v1h-1zM362 474h1v1h-1zM363 475h1v1h-1zM364 475h1v1h-1zM365 476h1v1h-1zM366 477h1v1h-1zM367 478h1v1h-1zM368 478h1v1h-1zM369 479h1v1h-1zM370 480h1v1h-1zM371 481h1v1h-1zM372 481h1v1h-1zM373 482h1v1h-1zM374 483h1v1h-1zM375 483h1v1h-1zM376 484h1v1h-1zM377 484h1v1h-1zM378 484h1v1h-1zM379 485h1v1h-1zM380 485h1v1h-1zM381 485h1v1h-1zM382 485h1v1h-1zM383 486h1v1h-1zM384 486h1v1h-1zM385 486h1v1h-1zM386 484h1v2h-1zM387 483h1v1h-1zM388 481h1v2h-1zM389 480h1v1h-1zM390 479h1v1h-1zM391 477h1v2h-1zM392 476h1v1h-1zM393 475h1v1h-1zM394 474h1v1h-1zM395 473h1v1h-1zM396 472h1v1h-1zM397 471h1v1h-1zM398 470h1v1h-1zM399 468h1v2h-1zM400 467h1v1h-1zM401 466h1v1h-1zM402 465h1v1h-1zM403 464h1v1h-1zM404 463h1v1h-1zM405 462h1v1h-1zM406 463h1v1h-1zM407 463h1v1h-1zM408 464h1v1h-1zM409 464h1v1h-1zM410 463h1v1h-1zM411 463h1v1h-1zM412 462h1v1h-1zM413 462h1v1h-1zM414 461h1v1h-1zM415 461h1v1h-1zM416 460h1v1h-1zM417 460h1v1h-1zM418 459h1v1h-1zM419 458h1v1h-1zM420 458h1v1h-1zM421 457h1v1h-1zM422 456h1v1h-1zM423 454h1v2h-1zM424 453h1v1h-1zM425 452h1v1h-1zM426 451h1v1h-1zM427 450h1v1h-1zM428 450h1v1h-1zM429 449h1v1h-1zM430 448h1v1h-1zM431 447h1v1h-1zM432 447h1v1h-1zM433 446h1v1h-1zM434 445h1v1h-1zM435 444h1v1h-1zM436 443h1v1h-1zM437 442h1v1h-1zM438 441h1v1h-1zM439 441h1v1h-1zM440 440h1v1h-1zM441 440h1v1h-1zM442 440h1v1h-1zM443 441h1v1h-1zM444 441h1v1h-1zM445 441h1v1h-1zM446 441h1v1h-1zM447 440h1v1h-1zM448 440h1v1h-1zM449 440h1v1h-1zM450 440h1v1h-1zM451 441h1v1h-1zM452 441h1v1h-1zM453 441h1v1h-1zM454 441h1v1h-1zM455 442h1v1h-1zM456 442h1v1h-1zM457 442h1v1h-1zM458 441h1v1h-1zM459 440h1v1h-1zM460 440h1v1h-1zM461 439h1v1h-1zM462 438h1v1h-1zM463 437h1v1h-1zM464 437h1v1h-1zM465 436h1v1h-1zM466 435h1v1h-1zM467 434h1v1h-1zM468 434h1v1h-1zM469 433h1v1h-1zM470 432h1v1h-1zM471 430h1v2h-1zM472 429h1v1h-1zM473 428h1v1h-1zM474 427h1v1h-1zM475 426h1v1h-1zM476 425h1v1h-1zM477 424h1v1h-1zM478 424h1v1h-1zM479 424h1v1h-1zM480 424h1v1h-1zM481 424h1v1h-1zM482 424h1v1h-1zM483 424h1v1h-1zM484 424h1v1h-1zM485 424h1v1h-1zM486 424h1v1h-1zM487 424h1v1h-1zM488 424h1v1h-1zM489 424h1v1h-1zM490 424h1v1h-1zM491 425h1v1h-1zM492 425h1v1h-1zM493 425h1v1h-1zM494 426h1v1h-1zM495 426h1v1h-1zM496 427h1v1h-1zM497 427h1v1h-1zM498 427h1v1h-1zM499 426h1v1h-1zM500 426h1v1h-1zM501 426h1v1h-1zM502 426h1v1h-1zM503 426h1v1h-1zM504 426h1v1h-1zM505 426h1v1h-1zM506 427h1v1h-1zM507 427h1v1h-1zM508 428h1v1h-1zM509 428h1v1h-1zM510 429h1v2h-1zM511 431h1v1h-1zM512 432h1v2h-1zM513 434h1v1h-1zM514 434h1v1h-1zM515 434h1v1h-1zM516 434h1v1h-1zM517 434h1v1h-1zM518 435h1v1h-1zM519 436h1v1h-1zM520 436h1v1h-1zM521 437h1v1h-1zM522 438h1v1h-1zM523 439h1v1h-1zM524 439h1v1h-1zM525 440h1v1h-1zM526 440h1v1h-1zM527 440h1v1h-1zM528 440h1v1h-1zM529 440h1v1h-1zM530 440h1v1h-1zM531 439h1v1h-1zM532 439h1v1h-1zM533 439h1v1h-1zM534 440h1v1h-1zM535 441h1v1h-1zM536 442h1v1h-1zM537 443h1v1h-1zM538 444h1v1h-1zM539 445h1v1h-1zM540 445h1v1h-1zM541 446h1v1h-1zM542 447h1v1h-1zM543 447h1v1h-1zM544 448h1v1h-1zM545 448h1v1h-1zM546 449h1v1h-1zM547 450h1v2h-1zM548 452h1v1h-1zM549 453h1v1h-1zM550 454h1v1h-1zM551 455h1v1h-1zM552 455h1v1h-1zM553 456h1v1h-1zM554 457h1v1h-1zM555 458h1v2h-1zM556 460h1v1h-1zM557 461h1v1h-1zM558 462h1v1h-1zM559 463h1v1h-1zM560 463h1v1h-1zM561 464h1v1h-1zM562 464h1v1h-1zM563 465h1v1h-1zM564 465h1v1h-1zM565 465h1v1h-1zM566 465h1v1h-1zM567 464h1v1h-1zM568 464h1v1h-1zM569 464h1v1h-1zM570 464h1v1h-1zM571 463h1v1h-1zM572 463h1v1h-1zM573 463h1v1h-1zM574 462h1v1h-1zM575 462h1v1h-1zM576 461h1v1h-1zM577 461h1v1h-1zM578 460h1v1h-1zM579 460h1v1h-1zM580 459h1v1h-1zM581 459h1v1h-1zM582 460h1v1h-1zM583 461h1v1h-1zM584 461h1v1h-1zM585 462h1v1h-1zM586 463h1v1h-1zM587 464h1v1h-1zM588 465h1v1h-1zM589 466h1v1h-1zM590 467h1v2h-1zM591 469h1v1h-1zM592 470h1v2h-1zM593 472h1v1h-1zM594 473h1v1h-1zM595 474h1v2h-1zM596 476h1v1h-1zM597 477h1v2h-1zM598 479h1v3h-1zM599 482h1v2h-1zM600 484h1v3h-1zM601 487h1v2h-1zM602 489h1v2h-1zM603 491h1v2h-1zM604 493h1v2h-1zM605 495h1v1h-1zM606 496h1v2h-1zM607 498h1v1h-1zM608 499h1v2h-1zM609 501h1v1h-1zM610 502h1v1h-1zM611 503h1v2h-1zM612 505h1v1h-1zM613 506h1v1h-1zM614 507h1v1h-1zM615 508h1v1h-1zM616 509h1v1h-1zM617 510h1v1h-1zM618 510h1v1h-1zM619 509h1v1h-1zM620 509h1v1h-1zM621 509h1v1h-1zM622 509h1v1h-1zM623 508h1v1h-1zM624 508h1v1h-1zM625 508h1v1h-1zM626 507h1v1h-1zM627 506h1v1h-1zM628 505h1v1h-1zM629 504h1v1h-1zM630 502h1v2h-1zM631 501h1v1h-1zM632 499h1v2h-1zM633 498h1v1h-1zM634 497h1v1h-1zM635 496h1v1h-1zM636 496h1v1h-1zM637 495h1v1h-1zM638 494h1v1h-1zM639 492h1v2h-1zM640 491h1v1h-1zM641 490h1v1h-1zM642 489h1v1h-1zM643 489h1v1h-1zM644 488h1v1h-1zM645 488h1v1h-1zM646 487h1v1h-1zM647 487h1v1h-1zM648 486h1v1h-1zM649 486h1v1h-1zM650 487h1v1h-1zM651 488h1v1h-1zM652 488h1v1h-1zM653 489h1v1h-1zM654 489h1v1h-1zM655 490h1v1h-1zM656 490h1v1h-1zM657 490h1v1h-1zM658 490h1v1h-1zM659 490h1v1h-1zM660 490h1v1h-1zM661 490h1v1h-1zM662 490h1v1h-1zM663 489h1v1h-1zM664 489h1v1h-1zM665 489h1v1h-1zM666 489h1v1h-1zM667 490h1v1h-1zM668 490h1v1h-1zM669 490h1v1h-1zM670 489h1v1h-1zM671 489h1v1h-1zM672 488h1v1h-1zM673 488h1v1h-1zM674 487h1v1h-1zM675 486h1v1h-1zM676 485h1v1h-1zM677 484h1v1h-1zM678 483h1v1h-1zM679 482h1v1h-1zM680 481h1v1h-1zM681 480h1v1h-1zM682 479h1v1h-1zM683 478h1v1h-1zM684 477h1v1h-1zM685 476h1v1h-1zM686 475h1v1h-1zM687 473h1v2h-1zM688 472h1v1h-1zM689 471h1v1h-1zM690 469h1v2h-1zM691 467h1v2h-1zM692 465h1v2h-1zM693 464h1v1h-1zM694 463h1v1h-1zM695 462h1v1h-1zM696 462h1v1h-1zM697 461h1v1h-1zM698 460h1v1h-1zM699 459h1v1h-1zM700 459h1v1h-1zM701 458h1v1h-1zM702 457h1v1h-1zM703 455h1v2h-1zM704 454h1v1h-1zM705 453h1v1h-1zM706 452h1v1h-1zM707 450h1v2h-1zM708 449h1v1h-1zM709 448h1v1h-1zM710 447h1v1h-1zM711 447h1v1h-1zM712 446h1v1h-1zM713 446h1v1h-1zM714 445h1v1h-1zM715 443h1v2h-1zM716 442h1v1h-1zM717 441h1v1h-1zM718 440h1v1h-1zM719 439h1v1h-1zM720 438h1v1h-1zM721 437h1v1h-1zM722 436h1v1h-1zM723 435h1v1h-1zM724 434h1v1h-1zM725 433h1v1h-1zM726 432h1v1h-1zM727 431h1v1h-1zM728 430h1v1h-1zM729 429h1v1h-1zM730 428h1v1h-1zM731 427h1v1h-1zM732 426h1v1h-1zM733 425h1v1h-1zM734 425h1v1h-1zM735 424h1v1h-1zM736 424h1v1h-1zM737 424h1v1h-1zM738 423h1v1h-1zM739 422h1v1h-1zM740 422h1v1h-1zM741 421h1v1h-1zM742 421h1v1h-1zM743 422h1v1h-1zM744 422h1v1h-1zM745 422h1v1h-1zM746 423h1v1h-1zM747 423h1v1h-1zM748 424h1v1h-1zM749 424h1v1h-1zM750 425h1v1h-1zM751 425h1v1h-1zM752 426h1v1h-1zM753 426h1v1h-1zM754 427h1v1h-1zM755 428h1v1h-1zM756 428h1v1h-1zM757 429h1v1h-1zM758 430h1v1h-1zM759 431h1v1h-1zM760 431h1v1h-1zM761 432h1v1h-1zM762 433h1v1h-1zM763 434h1v1h-1zM764 434h1v1h-1zM765 435h1v1h-1zM766 435h1v1h-1zM767 436h1v1h-1zM768 436h1v1h-1zM769 436h1v1h-1zM770 436h1v1h-1zM771 436h1v1h-1zM772 436h1v1h-1zM773 436h1v1h-1zM774 437h1v1h-1zM775 437h1v1h-1zM776 438h1v1h-1zM777 438h1v1h-1zM778 439h1v1h-1zM779 439h1v1h-1zM780 440h1v1h-1zM781 440h1v1h-1zM782 440h1v1h-1zM783 441h1v1h-1zM784 441h1v1h-1zM785 441h1v1h-1zM786 441h1v1h-1zM787 441h1v1h-1zM788 441h1v1h-1zM789 441h1v1h-1zM790 440h1v1h-1zM791 439h1v1h-1zM792 439h1v1h-1zM793 438h1v1h-1zM794 437h1v1h-1zM795 436h1v1h-1zM796 435h1v1h-1zM797 434h1v1h-1zM798 432h1v2h-1zM799 430h1v2h-1zM800 428h1v2h-1zM801 426h1v2h-1zM802 423h1v3h-1zM803 420h1v3h-1zM804 417h1v3h-1zM805 415h1v2h-1zM806 413h1v2h-1zM807 411h1v2h-1zM808 409h1v2h-1zM809 407h1v2h-1zM810 406h1v1h-1zM811 404h1v2h-1zM812 403h1v1h-1zM813 402h1v1h-1zM814 401h1v1h-1zM815 401h1v1h-1zM816 400h1v1h-1zM817 400h1v1h-1zM818 399h1v1h-1zM819 399h1v1h-1zM820 398h1v1h-1zM821 398h1v1h-1zM822 398h1v1h-1zM823 399h1v1h-1zM824 399h1v1h-1zM825 399h1v1h-1zM826 399h1v1h-1zM827 398h1v1h-1zM828 398h1v1h-1zM829 398h1v1h-1zM830 397h1v1h-1zM831 397h1v1h-1zM832 396h1v1h-1zM833 395h1v2h-1zM834 392h1v3h-1zM835 390h1v2h-1zM836 387h1v3h-1zM837 383h1v4h-1zM838 378h1v5h-1zM839 372h1v6h-1zM840 367h1v5h-1zM841 362h1v5h-1zM842 358h1v4h-1zM843 353h1v5h-1zM844 349h1v4h-1zM845 343h1v6h-1zM846 337h1v6h-1zM847 331h1v6h-1zM848 325h1v6h-1zM849 318h1v7h-1zM850 310h1v8h-1zM851 302h1v8h-1zM852 294h1v8h-1zM853 288h1v6h-1zM854 282h1v6h-1zM855 277h1v5h-1zM856 271h1v6h-1zM857 267h1v4h-1zM858 265h1v2h-1zM859 262h1v3h-1zM860 260h1v2h-1zM861 256h1v4h-1zM862 250h1v6h-1zM863 244h1v6h-1zM864 238h1v6h-1zM865 230h1v8h-1zM866 221h1v9h-1zM867 212h1v9h-1zM868 203h1v9h-1zM869 195h1v8h-1zM870 189h1v6h-1zM871 182h1v7h-1zM872 176h1v6h-1zM873 170h1v6h-1zM874 164h1v6h-1zM875 158h1v6h-1zM876 152h1v6h-1zM877 145h1v7h-1zM878 139h1v6h-1zM879 132h1v7h-1zM880 126h1v6h-1zM881 120h1v6h-1zM882 116h1v4h-1zM883 111h1v5h-1zM884 107h1v4h-1zM885 104h1v3h-1zM886 105h1v1h-1zM887 106h1v1h-1zM888 106h1v1h-1zM889 107h1v1h-1zM890 108h1v2h-1zM891 110h1v2h-1zM892 112h1v2h-1zM893 114h1v3h-1zM894 117h1v4h-1zM895 121h1v5h-1zM896 126h1v4h-1zM897 130h1v5h-1zM898 135h1v5h-1zM899 140h1v4h-1zM900 144h1v5h-1zM901 149h1v7h-1zM902 156h1v8h-1zM903 164h1v8h-1zM904 172h1v8h-1zM905 180h1v6h-1zM906 186h1v4h-1zM907 190h1v4h-1zM908 194h1v4h-1zM909 198h1v4h-1zM910 202h1v3h-1zM911 205h1v3h-1zM912 208h1v3h-1zM913 211h1v2h-1zM914 209h1v2h-1zM915 206h1v3h-1zM916 204h1v2h-1zM917 202h1v2h-1zM918 201h1v1h-1zM919 201h1v1h-1zM920 200h1v1h-1zM921 199h1v2h-1zM922 196h1v3h-1zM923 194h1v2h-1zM924 191h1v3h-1zM925 189h1v2h-1zM926 189h1v1h-1zM927 190h1v1h-1zM928 190h1v1h-1zM929 190h1v1h-1zM930 190h1v1h-1zM931 190h1v1h-1zM932 190h1v1h-1zM933 190h1v2h-1zM934 192h1v4h-1zM935 196h1v3h-1zM936 199h1v4h-1zM937 203h1v2h-1zM938 205h1v1h-1zM939 206h1v2h-1zM940 208h1v1h-1zM941 209h1v1h-1zM942 210h1v2h-1zM943 212h1v2h-1zM944 214h1v2h-1zM945 216h1v3h-1zM946 219h1v3h-1zM947 222h1v2h-1zM948 224h1v3h-1zM949 227h1v3h-1zM950 230h1v2h-1zM951 232h1v2h-1zM952 234h1v2h-1zM953 236h1v2h-1zM954 237h1v1h-1zM955 238h1v1h-1zM956 238h1v1h-1zM957 238h1v1h-1zM958 239h1v2h-1zM959 241h1v1h-1zM960 242h1v2h-1zM961 244h1v1h-1zM962 242h1v2h-1zM963 240h1v2h-1zM964 238h1v2h-1zM965 236h1v2h-1zM966 234h1v2h-1zM967 232h1v2h-1zM968 230h1v2h-1zM969 228h1v2h-1zM970 227h1v1h-1zM971 226h1v1h-1zM972 225h1v1h-1zM973 224h1v1h-1zM974 223h1v1h-1zM975 222h1v1h-1zM976 221h1v1h-1zM977 219h1v2h-1zM978 217h1v2h-1zM979 215h1v2h-1zM980 213h1v2h-1zM981 211h1v2h-1zM982 210h1v1h-1zM983 208h1v2h-1zM984 207h1v1h-1zM985 206h1v1h-1zM986 206h1v1h-1zM987 207h1v1h-1zM988 207h1v1h-1zM989 207h1v1h-1zM990 207h1v1h-1zM991 207h1v1h-1zM992 207h1v1h-1zM993 207h1v1h-1zM994 206h1v1h-1zM995 204h1v2h-1zM996 203h1v1h-1zM997 202h1v1h-1zM998 201h1v1h-1zM999 201h1v1h-1zM1000 200h1v1h-1zM1001 200h1v2h-1zM1002 202h1v2h-1zM1003 204h1v2h-1zM1004 206h1v2h-1zM1005 208h1v2h-1zM1006 210h1v2h-1zM1007 212h1v2h-1zM1008 214h1v2h-1zM1009 216h1v1h-1zM1010 217h1v2h-1zM1011 219h1v1h-1zM1012 220h1v2h-1zM1013 222h1v2h-1zM1014 224h1v2h-1zM1015 226h1v3h-1zM1016 229h1v2h-1zM1017 231h1v2h-1zM1018 232h1v1h-1zM1019 232h1v1h-1zM1020 232h1v1h-1zM1021 232h1v1h-1zM1022 231h1v1h-1zM1023 231h1v1h-1zM1024 230h1v1h-1zM1025 230h1v1h-1zM1026 229h1v1h-1zM1027 227h1v2h-1zM1028 226h1v1h-1zM1029 225h1v1h-1zM1030 224h1v1h-1zM1031 222h1v2h-1zM1032 221h1v1h-1zM1033 219h1v2h-1zM1034 216h1v3h-1zM1035 212h1v4h-1zM1036 209h1v3h-1zM1037 207h1v2h-1zM1038 208h1v2h-1zM1039 210h1v2h-1zM1040 212h1v2h-1zM1041 214h1v2h-1zM1042 216h1v2h-1zM1043 218h1v3h-1zM1044 221h1v2h-1zM1045 223h1v2h-1zM1046 225h1v2h-1zM1047 227h1v2h-1zM1048 229h1v2h-1zM1049 231h1v2h-1zM1050 232h1v1h-1zM1051 232h1v1h-1zM1052 232h1v1h-1zM1053 232h1v1h-1zM1054 233h1v2h-1zM1055 235h1v2h-1zM1056 237h1v2h-1zM1057 239h1v2h-1zM1058 238h1v2h-1zM1059 236h1v2h-1zM1060 234h1v2h-1zM1061 232h1v2h-1zM1062 230h1v2h-1zM1063 227h1v3h-1zM1064 225h1v2h-1zM1065 222h1v3h-1zM1066 220h1v2h-1zM1067 218h1v2h-1zM1068 216h1v2h-1zM1069 214h1v2h-1zM1070 213h1v1h-1zM1071 212h1v1h-1zM1072 211h1v1h-1zM1073 210h1v1h-1zM1074 211h1v1h-1zM1075 211h1v1h-1zM1076 212h1v1h-1zM1077 212h1v2h-1zM1078 214h1v3h-1zM1079 217h1v3h-1zM1080 220h1v3h-1zM1081 223h1v3h-1zM1082 226h1v2h-1zM1083 228h1v3h-1zM1084 231h1v2h-1zM1085 233h1v2h-1zM1086 235h1v2h-1zM1087 237h1v2h-1zM1088 239h1v2h-1zM1089 241h1v1h-1zM1090 242h1v1h-1zM1091 243h1v2h-1zM1092 245h1v1h-1zM1093 246h1v1h-1zM1094 245h1v1h-1zM1095 245h1v1h-1zM1096 244h1v1h-1zM1097 244h1v1h-1zM1098 243h1v1h-1zM1099 241h1v2h-1zM1100 240h1v1h-1zM1101 239h1v1h-1zM1102 240h1v1h-1zM1103 241h1v2h-1zM1104 243h1v1h-1zM1105 244h1v2h-1zM1106 246h1v2h-1zM1107 248h1v2h-1zM1108 250h1v2h-1zM1109 252h1v3h-1zM1110 255h1v4h-1zM1111 259h1v4h-1zM1112 263h1v4h-1zM1113 267h1v3h-1zM1114 270h1v2h-1zM1115 272h1v3h-1zM1116 275h1v2h-1zM1117 277h1v3h-1zM1118 280h1v2h-1zM1119 282h1v3h-1zM1120 285h1v2h-1zM1121 287h1v3h-1zM1122 290h1v3h-1zM1123 293h1v3h-1zM1124 296h1v3h-1zM1125 299h1v3h-1zM1126 302h1v4h-1zM1127 306h1v4h-1zM1128 310h1v4h-1zM1129 314h1v3h-1zM1130 317h1v4h-1zM1131 321h1v4h-1zM1132 325h1v4h-1zM1133 329h1v3h-1zM1134 332h1v4h-1zM1135 336h1v4h-1zM1136 340h1v4h-1zM1137 344h1v5h-1zM1138 349h1v5h-1zM1139 354h1v4h-1zM1140 358h1v5h-1zM1141 363h1v4h-1zM1142 367h1v2h-1zM1143 369h1v2h-1zM1144 371h1v2h-1zM1145 373h1v2h-1zM1146 375h1v2h-1zM1147 377h1v2h-1zM1148 379h1v2h-1zM1149 381h1v2h-1zM1150 383h1v1h-1zM1151 384h1v1h-1zM1152 384h1v1h-1zM1153 385h1v1h-1zM1154 386h1v2h-1zM1155 388h1v2h-1zM1156 390h1v2h-1zM1157 392h1v1h-1zM1158 390h1v2h-1zM1159 388h1v2h-1zM1160 386h1v2h-1zM1161 384h1v2h-1zM1162 382h1v2h-1zM1163 380h1v2h-1zM1164 378h1v2h-1zM1165 375h1v3h-1zM1166 372h1v3h-1zM1167 368h1v4h-1zM1168 365h1v3h-1zM1169 362h1v3h-1zM1170 360h1v2h-1zM1171 357h1v3h-1zM1172 355h1v2h-1zM1173 352h1v3h-1zM1174 350h1v2h-1zM1175 348h1v2h-1zM1176 346h1v2h-1zM1177 344h1v2h-1zM1178 344h1v1h-1zM1179 343h1v1h-1zM1180 343h1v1h-1zM1181 343h1v1h-1zM1182 343h1v1h-1zM1183 343h1v1h-1zM1184 343h1v1h-1zM1185 343h1v1h-1zM1186 343h1v1h-1zM1187 344h1v1h-1zM1188 344h1v1h-1zM1189 344h1v1h-1zM1190 344h1v1h-1zM1191 345h1v1h-1zM1192 345h1v1h-1zM1193 345h1v1h-1zM1194 345h1v1h-1zM1195 346h1v1h-1zM1196 346h1v1h-1zM1197 346h1v1h-1zM1198 347h1v1h-1zM1199 348h1v1h-1zM1200 348h1v1h-1zM1201 349h1v1h-1zM1202 349h1v1h-1zM1203 349h1v1h-1zM1204 349h1v1h-1zM1205 349h1v1h-1zM1206 348h1v1h-1zM1207 347h1v1h-1zM1208 346h1v1h-1zM1209 345h1v1h-1zM1210 344h1v1h-1zM1211 342h1v2h-1zM1212 341h1v1h-1zM1213 340h1v1h-1zM1214 338h1v2h-1zM1215 337h1v1h-1zM1216 335h1v2h-1zM1217 333h1v2h-1zM1218 331h1v2h-1zM1219 328h1v3h-1zM1220 326h1v2h-1zM1221 324h1v2h-1zM1222 324h1v1h-1zM1223 323h1v1h-1zM1224 323h1v1h-1zM1225 323h1v1h-1zM1226 324h1v1h-1zM1227 325h1v1h-1zM1228 326h1v1h-1zM1229 327h1v1h-1zM1230 328h1v2h-1zM1231 330h1v1h-1zM1232 331h1v2h-1zM1233 333h1v1h-1zM1234 334h1v1h-1zM1235 335h1v2h-1zM1236 337h1v1h-1zM1237 338h1v1h-1zM1238 339h1v2h-1zM1239 341h1v2h-1zM1240 343h1v2h-1zM1241 345h1v1h-1zM1242 346h1v1h-1zM1243 347h1v1h-1zM1244 348h1v1h-1zM1245 349h1v1h-1zM1246 349h1v1h-1zM1247 348h1v1h-1zM1248 348h1v1h-1zM1249 348h1v1h-1zM1250 349h1v1h-1zM1251 350h1v1h-1zM1252 351h1v1h-1zM1253 352h1v1h-1zM1254 352h1v1h-1zM1255 351h1v1h-1zM1256 351h1v1h-1zM1257 351h1v1h-1zM1258 350h1v1h-1zM1259 350h1v1h-1zM1260 349h1v1h-1zM1261 349h1v1h-1zM1262 348h1v1h-1zM1263 348h1v1h-1zM1264 347h1v1h-1zM1265 347h1v1h-1zM1266 347h1v1h-1zM1267 347h1v1h-1zM1268 347h1v1h-1zM1269 347h1v1h-1z" fill="#ffa500"/>
<path d="M5 477h2v1h-2zM7 478h4v1h-4zM11 479h3v1h-3zM14 480h2v1h-2zM16 481h3v1h-3zM19 482h4v1h-4zM23 483h3v1h-3zM26 484h2v1h-2zM28 485h15v1h-15zM43 484h8v1h-8zM51 483h4v1h-4zM55 482h3v1h-3zM58 481h2v1h-2zM60 480h2v1h-2zM62 479h2v1h-2zM64 478h2v1h-2zM66 477h2v1h-2zM68 476h2v1h-2zM70 475h1v1h-1zM71 474h2v1h-2zM73 473h1v1h-1zM74 472h2v1h-2zM76 471h2v1h-2zM78 470h1v1h-1zM79 469h2v1h-2zM81 468h1v1h-1zM82 467h1v1h-1zM83 466h2v1h-2zM85 465h1v1h-1zM86 464h2v1h-2zM88 463h2v1h-2zM90 462h1v1h-1zM91 461h2v1h-2zM93 460h1v1h-1zM94 459h1v1h-1zM95 458h2v1h-2zM97 457h1v1h-1zM98 456h1v1h-1zM99 454h1v1h-1zM99 455h1v1h-1zM100 453h1v1h-1zM101 452h1v1h-1zM102 451h2v1h-2zM104 450h3v1h-3zM107 449h3v1h-3zM110 448h2v1h-2zM112 447h3v1h-3zM115 446h7v1h-7zM122 445h1v1h-1zM123 444h1v1h-1zM124 443h1v1h-1zM125 442h1v1h-1zM126 441h1v1h-1zM127 440h2v1h-2zM129 439h1v1h-1zM130 438h1v1h-1zM131 437h2v1h-2zM133 436h2v1h-2zM135 435h4v1h-4zM139 434h3v1h-3zM142 433h1v1h-1zM143 432h2v1h-2zM145 431h2v1h-2zM147 430h4v1h-4zM151 429h8v1h-8zM159 428h4v1h-4zM163 427h4v1h-4zM167 426h3v1h-3zM170 425h2v1h-2zM172 424h3v1h-3zM175 423h4v1h-4zM179 424h8v1h-8zM187 423h4v1h-4zM191 422h4v1h-4zM195 423h4v1h-4zM199 424h3v1h-3zM202 425h1v1h-1zM203 426h2v1h-2zM205 427h1v1h-1zM206 428h2v1h-2zM208 429h2v1h-2zM210 430h1v1h-1zM211 431h1v1h-1zM212 432h1v1h-1zM213 433h1v1h-1zM214 434h1v1h-1zM215 435h2v1h-2zM217 436h2v1h-2zM219 437h4v1h-4zM223 438h4v1h-4zM227 439h8v1h-8zM235 440h3v1h-3zM238 441h2v1h-2zM240 442h6v1h-6zM246 443h2v1h-2zM248 444h3v1h-3zM251 443h4v1h-4zM255 442h3v1h-3zM258 441h2v1h-2zM260 440h3v1h-3zM263 439h3v1h-3zM266 438h1v1h-1zM267 437h2v1h-2zM269 436h1v1h-1zM270 435h1v1h-1zM271 434h2v1h-2zM273 433h2v1h-2zM275 432h12v1h-12zM287 433h4v1h-4zM291 432h4v1h-4zM295 431h4v1h-4zM299 430h4v1h-4zM303 429h4v1h-4zM307 428h4v1h-4zM311 427h4v1h-4zM315 426h4v1h-4zM319 425h3v1h-3zM322 426h2v1h-2zM324 427h2v1h-2zM326 428h2v1h-2zM328 429h3v1h-3zM331 430h7v1h-7zM338 431h2v1h-2zM340 432h3v1h-3zM343 433h3v1h-3zM346 434h1v1h-1zM347 435h1v1h-1zM348 436h1v1h-1zM349 437h1v1h-1zM350 438h1v1h-1zM351 439h1v1h-1zM352 440h1v1h-1zM353 441h1v1h-1zM354 442h1v1h-1zM355 443h1v1h-1zM356 444h1v1h-1zM357 445h1v1h-1zM358 446h1v1h-1zM359 447h1v1h-1zM359 448h1v1h-1zM360 449h1v1h-1zM361 450h1v1h-1zM362 451h1v1h-1zM363 452h1v1h-1zM364 453h1v1h-1zM365 454h1v1h-1zM366 455h1v1h-1zM367 456h1v1h-1zM367 457h1v1h-1zM368 458h1v1h-1zM369 459h1v1h-1zM370 460h1v1h-1zM371 461h1v1h-1zM371 462h1v1h-1zM372 463h1v1h-1zM373 464h1v1h-1zM374 465h1v1h-1zM375 466h1v1h-1zM376 467h1v1h-1zM377 468h1v1h-1zM378 469h1v1h-1zM379 470h2v1h-2zM381 471h1v1h-1zM382 472h2v1h-2zM384 473h3v1h-3zM387 474h4v1h-4zM391 475h4v1h-4zM395 476h4v1h-4zM399 475h8v1h-8zM407 474h4v1h-4zM411 473h3v1h-3zM414 472h2v1h-2zM416 471h2v1h-2zM418 470h2v1h-2zM420 469h2v1h-2zM422 468h1v1h-1zM423 467h2v1h-2zM425 466h1v1h-1zM426 465h1v1h-1zM427 464h2v1h-2zM429 463h1v1h-1zM430 462h1v1h-1zM431 461h1v1h-1zM432 460h1v1h-1zM433 459h1v1h-1zM434 458h1v1h-1zM435 457h2v1h-2zM437 456h1v1h-1zM438 455h1v1h-1zM439 454h1v1h-1zM440 453h1v1h-1zM441 452h5v1h-5zM446 451h2v1h-2zM448 450h3v1h-3zM451 449h3v1h-3zM454 448h2v1h-2zM456 447h2v1h-2zM458 446h1v1h-1zM459 445h2v1h-2zM461 444h1v1h-1zM462 443h2v1h-2zM464 442h2v1h-2zM466 441h2v1h-2zM468 440h2v1h-2zM470 439h1v1h-1zM471 438h2v1h-2zM473 437h1v1h-1zM474 436h2v1h-2zM476 435h3v1h-3zM479 434h4v1h-4zM483 433h4v1h-4zM487 432h4v1h-4zM491 431h4v1h-4zM495 430h4v1h-4zM499 429h4v1h-4zM503 428h4v1h-4zM507 427h4v1h-4zM511 428h4v1h-4zM515 429h8v1h-8zM523 430h3v1h-3zM526 431h2v1h-2zM528 432h3v1h-3zM531 433h3v1h-3zM534 434h2v1h-2zM536 435h2v1h-2zM538 436h2v1h-2zM540 437h2v1h-2zM542 438h2v1h-2zM544 439h2v1h-2zM546 440h1v1h-1zM547 441h2v1h-2zM549 442h1v1h-1zM550 443h2v1h-2zM552 444h2v1h-2zM554 445h1v1h-1zM555 446h1v1h-1zM556 447h1v1h-1zM557 448h1v1h-1zM558 449h1v1h-1zM559 450h2v1h-2zM561 451h2v1h-2zM563 452h7v1h-7zM570 453h2v1h-2zM572 454h2v1h-2zM574 455h2v1h-2zM576 456h2v1h-2zM578 457h2v1h-2zM580 458h2v1h-2zM582 459h2v1h-2zM584 460h2v1h-2zM586 461h2v1h-2zM588 462h2v1h-2zM590 463h1v1h-1zM591 464h2v1h-2zM593 465h1v1h-1zM594 466h2v1h-2zM596 467h2v1h-2zM598 468h1v1h-1zM599 469h1v1h-1zM599 470h1v1h-1zM600 471h1v1h-1zM601 472h1v1h-1zM602 473h1v1h-1zM603 474h2v1h-2zM605 475h1v1h-1zM606 476h1v1h-1zM607 477h2v1h-2zM609 478h1v1h-1zM610 479h1v1h-1zM611 480h2v1h-2zM613 481h1v1h-1zM614 482h1v1h-1zM615 483h2v1h-2zM617 484h1v1h-1zM618 485h1v1h-1zM619 486h2v1h-2zM621 487h1v1h-1zM622 488h1v1h-1zM623 489h2v1h-2zM625 490h1v1h-1zM626 491h1v1h-1zM627 492h2v1h-2zM629 493h2v1h-2zM631 494h3v1h-3zM634 495h2v1h-2zM636 496h3v1h-3zM639 497h4v1h-4zM643 498h12v1h-12zM655 497h3v1h-3zM658 496h2v1h-2zM660 495h3v1h-3zM663 494h3v1h-3zM666 493h2v1h-2zM668 492h3v1h-3zM671 491h3v1h-3zM674 490h1v1h-1zM675 489h2v1h-2zM677 488h1v1h-1zM678 487h1v1h-1zM679 486h2v1h-2zM681 485h1v1h-1zM682 484h2v1h-2zM684 483h6v1h-6zM690 482h1v1h-1zM691 481h2v1h-2zM693 480h1v1h-1zM694 479h2v1h-2zM696 478h2v1h-2zM698 477h1v1h-1zM699 476h2v1h-2zM701 475h1v1h-1zM702 474h1v1h-1zM703 473h2v1h-2zM705 472h1v1h-1zM706 471h1v1h-1zM707 470h1v1h-1zM708 469h1v1h-1zM709 468h1v1h-1zM710 467h1v1h-1zM711 466h1v1h-1zM712 465h1v1h-1zM713 464h1v1h-1zM714 463h1v1h-1zM715 462h1v1h-1zM716 461h1v1h-1zM717 460h1v1h-1zM718 459h1v1h-1zM719 458h1v1h-1zM720 457h1v1h-1zM721 456h1v1h-1zM722 455h1v1h-1zM723 453h1v1h-1zM723 454h1v1h-1zM724 452h1v1h-1zM725 451h1v1h-1zM726 450h1v1h-1zM727 449h1v1h-1zM728 448h1v1h-1zM729 447h1v1h-1zM730 446h1v1h-1zM731 445h1v1h-1zM732 444h1v1h-1zM733 443h1v1h-1zM734 442h1v1h-1zM735 441h2v1h-2zM737 440h1v1h-1zM738 439h1v1h-1zM739 438h2v1h-2zM741 437h1v1h-1zM742 436h1v1h-1zM743 435h2v1h-2zM745 434h1v1h-1zM746 433h2v1h-2zM748 432h3v1h-3zM751 431h4v1h-4zM755 430h4v1h-4zM759 429h16v1h-16zM775 430h3v1h-3zM778 431h2v1h-2zM780 432h2v1h-2zM782 433h2v1h-2zM784 434h11v1h-11zM795 435h4v1h-4zM799 434h3v1h-3zM802 433h1v1h-1zM803 432h1v1h-1zM804 431h1v1h-1zM805 430h1v1h-1zM806 429h1v1h-1zM807 428h2v1h-2zM809 427h1v1h-1zM810 426h2v1h-2zM812 425h2v1h-2zM814 424h2v1h-2zM816 423h2v1h-2zM818 422h1v1h-1zM819 421h2v1h-2zM821 420h1v1h-1zM822 419h1v1h-1zM823 418h2v1h-2zM825 417h1v1h-1zM826 416h1v1h-1zM827 415h1v1h-1zM828 414h1v1h-1zM829 413h1v1h-1zM830 412h1v1h-1zM831 411h2v1h-2zM833 410h1v1h-1zM834 408h1v1h-1zM834 409h1v1h-1zM835 407h1v1h-1zM836 405h1v1h-1zM836 406h1v1h-1zM837 403h1v1h-1zM837 404h1v1h-1zM838 400h1v1h-1zM838 401h1v1h-1zM838 402h1v1h-1zM839 398h1v1h-1zM839 399h1v1h-1zM840 395h1v1h-1zM840 396h1v1h-1zM840 397h1v1h-1zM841 392h1v1h-1zM841 393h1v1h-1zM841 394h1v1h-1zM842 390h1v1h-1zM842 391h1v1h-1zM843 387h1v1h-1zM843 388h1v1h-1zM843 389h1v1h-1zM844 385h1v1h-1zM844 386h1v1h-1zM845 382h1v1h-1zM845 383h1v1h-1zM845 384h1v1h-1zM846 379h1v1h-1zM846 380h1v1h-1zM846 381h1v1h-1zM847 377h1v1h-1zM847 378h1v1h-1zM848 374h1v1h-1zM848 375h1v1h-1zM848 376h1v1h-1zM849 371h1v1h-1zM849 372h1v1h-1zM849 373h1v1h-1zM850 367h1v1h-1zM850 368h1v1h-1zM850 369h1v1h-1zM850 370h1v1h-1zM851 364h1v1h-1zM851 365h1v1h-1zM851 366h1v1h-1zM852 360h1v1h-1zM852 361h1v1h-1zM852 362h1v1h-1zM852 363h1v1h-1zM853 357h1v1h-1zM853 358h1v1h-1zM853 359h1v1h-1zM854 354h1v1h-1zM854 355h1v1h-1zM854 356h1v1h-1zM855 352h1v1h-1zM855 353h1v1h-1zM856 349h1v1h-1zM856 350h1v1h-1zM856 351h1v1h-1zM857 346h1v1h-1zM857 347h1v1h-1zM857 348h1v1h-1zM858 343h1v1h-1zM858 344h1v1h-1zM858 345h1v1h-1zM859 341h1v1h-1zM859 342h1v1h-1zM860 338h1v1h-1zM860 339h1v1h-1zM860 340h1v1h-1zM861 335h1v1h-1zM861 336h1v1h-1zM861 337h1v1h-1zM862 331h1v1h-1zM862 332h1v1h-1zM862 333h1v1h-1zM862 334h1v1h-1zM863 327h1v1h-1zM863 328h1v1h-1zM863 329h1v1h-1zM863 330h1v1h-1zM864 323h1v1h-1zM864 324h1v1h-1zM864 325h1v1h-1zM864 326h1v1h-1zM865 319h1v1h-1zM865 320h1v1h-1zM865 321h1v1h-1zM865 322h1v1h-1zM866 313h1v1h-1zM866 314h1v1h-1zM866 315h1v1h-1zM866 316h1v1h-1zM866 317h1v1h-1zM866 318h1v1h-1zM867 308h1v1h-1zM867 309h1v1h-1zM867 310h1v1h-1zM867 311h1v1h-1zM867 312h1v1h-1zM868 302h1v1h-1zM868 303h1v1h-1zM868 304h1v1h-1zM868 305h1v1h-1zM868 306h1v1h-1zM868 307h1v1h-1zM869 297h1v1h-1zM869 298h1v1h-1zM869 299h1v1h-1zM869 300h1v1h-1zM869 301h1v1h-1zM870 291h1v1h-1zM870 292h1v1h-1zM870 293h1v1h-1zM870 294h1v1h-1zM870 295h1v1h-1zM870 296h1v1h-1zM871 286h1v1h-1zM871 287h1v1h-1zM871 288h1v1h-1zM871 289h1v1h-1zM871 290h1v1h-1zM872 280h1v1h-1zM872 281h1v1h-1zM872 282h1v1h-1zM872 283h1v1h-1zM872 284h1v1h-1zM872 285h1v1h-1zM873 275h1v1h-1zM873 276h1v1h-1zM873 277h1v1h-1zM873 278h1v1h-1zM873 279h1v1h-1zM874 270h1v1h-1zM874 271h1v1h-1zM874 272h1v1h-1zM874 273h1v1h-1zM874 274h1v1h-1zM875 266h1v1h-1zM875 267h1v1h-1zM875 268h1v1h-1zM875 269h1v1h-1zM876 261h1v1h-1zM876 262h1v1h-1zM876 263h1v1h-1zM876 264h1v1h-1zM876 265h1v1h-1zM877 256h1v1h-1zM877 257h1v1h-1zM877 258h1v1h-1zM877 259h1v1h-1zM877 260h1v1h-1zM878 251h1v1h-1zM878 252h1v1h-1zM878 253h1v1h-1zM878 254h1v1h-1zM878 255h1v1h-1zM879 246h1v1h-1zM879 247h1v1h-1zM879 248h1v1h-1zM879 249h1v1h-1zM879 250h1v1h-1zM880 241h1v1h-1zM880 242h1v1h-1zM880 243h1v1h-1zM880 244h1v1h-1zM880 245h1v1h-1zM881 236h1v1h-1zM881 237h1v1h-1zM881 238h1v1h-1zM881 239h1v1h-1zM881 240h1v1h-1zM882 230h1v1h-1zM882 231h1v1h-1zM882 232h1v1h-1zM882 233h1v1h-1zM882 234h1v1h-1zM882 235h1v1h-1zM883 225h1v1h-1zM883 226h1v1h-1zM883 227h1v1h-1zM883 228h1v1h-1zM883 229h1v1h-1zM884 219h1v1h-1zM884 220h1v1h-1zM884 221h1v1h-1zM884 222h1v1h-1zM884 223h1v1h-1zM884 224h1v1h-1zM885 214h1v1h-1zM885 215h1v1h-1zM885 216h1v1h-1zM885 217h1v1h-1zM885 218h1v1h-1zM886 209h1v1h-1zM886 210h1v1h-1zM886 211h1v1h-1zM886 212h1v1h-1zM886 213h1v1h-1zM887 204h1v1h-1zM887 205h1v1h-1zM887 206h1v1h-1zM887 207h1v1h-1zM887 208h1v1h-1zM888 199h1v1h-1zM888 200h1v1h-1zM888 201h1v1h-1zM888 202h1v1h-1zM888 203h1v1h-1zM889 195h1v1h-1zM889 196h1v1h-1zM889 197h1v1h-1zM889 198h1v1h-1zM890 191h1v1h-1zM890 192h1v1h-1zM890 193h1v1h-1zM890 194h1v1h-1zM891 187h1v1h-1zM891 188h1v1h-1zM891 189h1v1h-1zM891 190h1v1h-1zM892 183h1v1h-1zM892 184h1v1h-1zM892 185h1v1h-1zM892 186h1v1h-1zM893 180h1v1h-1zM893 181h1v1h-1zM893 182h1v1h-1zM894 179h1v1h-1zM895 177h1v1h-1zM895 178h1v1h-1zM896 176h1v1h-1zM897 175h1v1h-1zM898 173h1v1h-1zM898 174h1v1h-1zM899 171h1v1h-1zM899 172h1v1h-1zM900 169h1v1h-1zM900 170h1v1h-1zM901 168h2v1h-2zM903 167h3v1h-3zM906 166h1v1h-1zM907 165h2v1h-2zM909 164h1v1h-1zM910 163h1v1h-1zM911 162h1v1h-1zM912 161h1v1h-1zM913 160h1v1h-1zM914 159h1v1h-1zM915 157h1v1h-1zM915 158h1v1h-1zM916 156h1v1h-1zM917 155h2v1h-2zM919 156h3v1h-3zM922 157h1v1h-1zM922 158h1v1h-1zM923 159h1v1h-1zM923 160h1v1h-1zM924 161h1v1h-1zM924 162h1v1h-1zM925 163h1v1h-1zM925 164h1v1h-1zM926 165h1v1h-1zM926 166h1v1h-1zM927 167h1v1h-1zM928 168h1v1h-1zM928 169h1v1h-1zM929 170h1v1h-1zM930 171h1v1h-1zM931 172h1v1h-1zM931 173h1v1h-1zM932 174h1v1h-1zM933 175h1v1h-1zM933 176h1v1h-1zM934 177h1v1h-1zM934 178h1v1h-1zM935 179h1v1h-1zM935 180h1v1h-1zM936 181h1v1h-1zM936 182h1v1h-1zM937 183h1v1h-1zM937 184h1v1h-1zM937 185h1v1h-1zM938 186h1v1h-1zM938 187h1v1h-1zM939 188h1v1h-1zM939 189h1v1h-1zM939 190h1v1h-1zM940 191h1v1h-1zM940 192h1v1h-1zM941 193h1v1h-1zM941 194h1v1h-1zM941 195h1v1h-1zM942 196h1v1h-1zM942 197h1v1h-1zM943 198h1v1h-1zM943 199h1v1h-1zM943 200h1v1h-1zM944 201h1v1h-1zM944 202h1v1h-1zM945 203h1v1h-1zM945 204h1v1h-1zM946 205h1v1h-1zM946 206h1v1h-1zM947 207h1v1h-1zM947 208h1v1h-1zM948 209h1v1h-1zM948 210h1v1h-1zM949 211h2v1h-2zM951 212h3v1h-3zM954 213h1v1h-1zM955 214h2v1h-2zM957 215h2v1h-2zM959 216h4v1h-4zM963 217h4v1h-4zM967 216h3v1h-3zM970 217h1v1h-1zM971 218h1v1h-1zM972 219h1v1h-1zM973 220h1v1h-1zM974 221h2v1h-2zM976 222h3v1h-3zM979 223h8v1h-8zM987 222h4v1h-4zM991 221h4v1h-4zM995 220h3v1h-3zM998 219h1v1h-1zM999 218h2v1h-2zM1001 217h2v1h-2zM1003 216h4v1h-4zM1007 215h15v1h-15zM1022 216h2v1h-2zM1024 217h3v1h-3zM1027 216h4v1h-4zM1031 215h4v1h-4zM1035 214h3v1h-3zM1038 215h1v1h-1zM1039 216h1v1h-1zM1040 217h1v1h-1zM1041 218h1v1h-1zM1042 219h1v1h-1zM1043 220h1v1h-1zM1043 221h1v1h-1zM1044 222h1v1h-1zM1045 223h1v1h-1zM1046 224h2v1h-2zM1048 225h3v1h-3zM1051 226h3v1h-3zM1054 227h2v1h-2zM1056 228h3v1h-3zM1059 227h3v1h-3zM1062 226h2v1h-2zM1064 225h2v1h-2zM1066 224h1v1h-1zM1067 223h2v1h-2zM1069 222h1v1h-1zM1070 221h1v1h-1zM1071 220h1v1h-1zM1072 219h1v1h-1zM1073 218h1v1h-1zM1074 219h1v1h-1zM1075 220h2v1h-2zM1077 221h1v1h-1zM1078 222h1v1h-1zM1079 223h1v1h-1zM1080 224h1v1h-1zM1081 225h1v1h-1zM1082 226h1v1h-1zM1083 227h2v1h-2zM1085 228h1v1h-1zM1086 229h2v1h-2zM1088 230h2v1h-2zM1090 231h2v1h-2zM1092 232h6v1h-6zM1098 231h2v1h-2zM1100 230h2v1h-2zM1102 231h1v1h-1zM1103 232h2v1h-2zM1105 233h1v1h-1zM1106 234h1v1h-1zM1107 235h1v1h-1zM1108 236h1v1h-1zM1109 237h1v1h-1zM1110 238h1v1h-1zM1111 239h1v1h-1zM1111 240h1v1h-1zM1112 241h1v1h-1zM1113 242h1v1h-1zM1114 243h1v1h-1zM1114 244h1v1h-1zM1115 245h1v1h-1zM1116 246h1v1h-1zM1116 247h1v1h-1zM1117 248h1v1h-1zM1118 249h1v1h-1zM1118 250h1v1h-1zM1119 251h1v1h-1zM1120 252h1v1h-1zM1120 253h1v1h-1zM1121 254h1v1h-1zM1121 255h1v1h-1zM1122 256h1v1h-1zM1122 257h1v1h-1zM1123 258h1v1h-1zM1123 259h1v1h-1zM1124 260h1v1h-1zM1124 261h1v1h-1zM1125 262h1v1h-1zM1125 263h1v1h-1zM1125 264h1v1h-1zM1126 265h1v1h-1zM1126 266h1v1h-1zM1126 267h1v1h-1zM1127 268h1v1h-1zM1127 269h1v1h-1zM1127 270h1v1h-1zM1128 271h1v1h-1zM1128 272h1v1h-1zM1128 273h1v1h-1zM1129 274h1v1h-1zM1129 275h1v1h-1zM1129 276h1v1h-1zM1130 277h1v1h-1zM1130 278h1v1h-1zM1131 279h1v1h-1zM1131 280h1v1h-1zM1132 281h1v1h-1zM1132 282h1v1h-1zM1133 283h1v1h-1zM1133 284h1v1h-1zM1134 285h1v1h-1zM1134 286h1v1h-1zM1135 287h1v1h-1zM1135 288h1v1h-1zM1136 289h1v1h-1zM1136 290h1v1h-1zM1137 291h1v1h-1zM1137 292h1v1h-1zM1138 293h1v1h-1zM1138 294h1v1h-1zM1139 295h1v1h-1zM1139 296h1v1h-1zM1139 297h1v1h-1zM1140 298h1v1h-1zM1140 299h1v1h-1zM1141 300h1v1h-1zM1141 301h1v1h-1zM1141 302h1v1h-1zM1142 303h1v1h-1zM1142 304h1v1h-1zM1143 305h1v1h-1zM1143 306h1v1h-1zM1143 307h1v1h-1zM1144 308h1v1h-1zM1144 309h1v1h-1zM1145 310h1v1h-1zM1145 311h1v1h-1zM1145 312h1v1h-1zM1146 313h1v1h-1zM1146 314h1v1h-1zM1146 315h1v1h-1zM1147 316h1v1h-1zM1147 317h1v1h-1zM1147 318h1v1h-1zM1148 319h1v1h-1zM1148 320h1v1h-1zM1148 321h1v1h-1zM1149 322h1v1h-1zM1149 323h1v1h-1zM1149 324h1v1h-1zM1150 325h1v1h-1zM1150 326h1v1h-1zM1150 327h1v1h-1zM1151 328h1v1h-1zM1151 329h1v1h-1zM1152 330h1v1h-1zM1152 331h1v1h-1zM1152 332h1v1h-1zM1153 333h1v1h-1zM1153 334h1v1h-1zM1153 335h1v1h-1zM1154 336h1v1h-1zM1154 337h1v1h-1zM1154 338h1v1h-1zM1155 339h1v1h-1zM1155 340h1v1h-1zM1155 341h1v1h-1zM1156 342h1v1h-1zM1156 343h1v1h-1zM1156 344h1v1h-1zM1157 345h1v1h-1zM1157 346h1v1h-1zM1158 347h1v1h-1zM1159 348h1v1h-1zM1159 349h1v1h-1zM1160 350h1v1h-1zM1161 351h1v1h-1zM1162 352h1v1h-1zM1163 353h2v1h-2zM1165 354h1v1h-1zM1166 355h1v1h-1zM1167 356h2v1h-2zM1169 357h1v1h-1zM1170 358h1v1h-1zM1171 359h1v1h-1zM1172 360h1v1h-1zM1173 361h1v1h-1zM1174 362h1v1h-1zM1175 363h1v1h-1zM1176 364h1v1h-1zM1177 365h2v1h-2zM1179 366h3v1h-3zM1182 365h2v1h-2zM1184 364h2v1h-2zM1186 363h2v1h-2zM1188 362h3v1h-3zM1191 361h3v1h-3zM1194 360h1v1h-1zM1195 359h2v1h-2zM1197 358h2v1h-2zM1199 357h3v1h-3zM1202 356h1v1h-1zM1203 355h1v1h-1zM1204 354h1v1h-1zM1205 353h1v1h-1zM1206 352h1v1h-1zM1207 350h1v1h-1zM1207 351h1v1h-1zM1208 349h1v1h-1zM1209 348h1v1h-1zM1210 346h1v1h-1zM1210 347h1v1h-1zM1211 345h1v1h-1zM1212 343h1v1h-1zM1212 344h1v1h-1zM1213 342h1v1h-1zM1214 341h2v1h-2zM1216 340h2v1h-2zM1218 339h2v1h-2zM1220 338h7v1h-7zM1227 339h4v1h-4zM1231 338h8v1h-8zM1239 339h4v1h-4zM1243 340h12v1h-12zM1255 339h7v1h-7zM1262 340h2v1h-2zM1264 341h2v1h-2zM1266 342h2v1h-2zM1268 343h2v1h-2z" fill="#ff0000"/>
<path d="M5 447h1v1h-1zM6 448h1v1h-1zM7 449h2v1h-2zM9 450h1v1h-1zM10 451h2v1h-2zM12 452h2v1h-2zM14 453h2v1h-2zM16 454h2v1h-2zM18 455h2v1h-2zM20 456h2v1h-2zM22 457h2v1h-2zM24 458h2v1h-2zM26 459h2v1h-2zM28 460h2v1h-2zM30 461h1v1h-1zM31 462h2v1h-2zM33 463h1v1h-1zM34 464h2v1h-2zM36 465h2v1h-2zM38 466h1v1h-1zM39 467h1v1h-1zM40 468h1v1h-1zM41 469h1v1h-1zM42 470h2v1h-2zM44 471h2v1h-2zM46 472h1v1h-1zM47 473h2v1h-2zM49 474h1v1h-1zM50 475h2v1h-2zM52 476h11v1h-11zM63 477h16v1h-16zM79 476h4v1h-4zM83 475h4v1h-4zM87 474h4v1h-4zM91 473h4v1h-4zM95 472h3v1h-3zM98 471h2v1h-2zM100 470h2v1h-2zM102 469h2v1h-2zM104 468h3v1h-3zM107 467h3v1h-3zM110 466h2v1h-2zM112 465h3v1h-3zM115 464h4v1h-4zM119 463h3v1h-3zM122 462h2v1h-2zM124 461h2v1h-2zM126 460h2v1h-2zM128 459h2v1h-2zM130 458h2v1h-2zM132 457h2v1h-2zM134 456h2v1h-2zM136 455h2v1h-2zM138 454h1v1h-1zM139 453h2v1h-2zM141 452h1v1h-1zM142 451h2v1h-2zM144 450h2v1h-2zM146 449h1v1h-1zM147 448h2v1h-2zM149 447h2v1h-2zM151 446h3v1h-3zM154 445h1v1h-1zM155 444h2v1h-2zM157 443h1v1h-1zM158 442h2v1h-2zM160 441h3v1h-3zM163 440h3v1h-3zM166 439h2v1h-2zM168 438h3v1h-3zM171 437h4v1h-4zM175 436h4v1h-4zM179 435h3v1h-3zM182 434h2v1h-2zM184 433h3v1h-3zM187 432h3v1h-3zM190 431h2v1h-2zM192 430h3v1h-3zM195 429h8v1h-8zM203 430h12v1h-12zM215 431h3v1h-3zM218 432h2v1h-2zM220 433h11v1h-11zM231 432h28v1h-28zM259 433h12v1h-12zM271 434h8v1h-8zM279 435h36v1h-36zM315 434h16v1h-16zM331 433h4v1h-4zM335 432h8v1h-8zM343 433h4v1h-4zM347 434h3v1h-3zM350 435h2v1h-2zM352 436h3v1h-3zM355 437h3v1h-3zM358 438h2v1h-2zM360 439h3v1h-3zM363 440h3v1h-3zM366 441h2v1h-2zM368 442h2v1h-2zM370 443h2v1h-2zM372 444h2v1h-2zM374 445h2v1h-2zM376 446h2v1h-2zM378 447h2v1h-2zM380 448h2v1h-2zM382 449h2v1h-2zM384 450h6v1h-6zM390 451h2v1h-2zM392 452h7v1h-7zM399 453h4v1h-4zM403 454h4v1h-4zM407 455h4v1h-4zM411 456h4v1h-4zM415 457h3v1h-3zM418 458h2v1h-2zM420 459h7v1h-7zM427 460h4v1h-4zM431 461h4v1h-4zM435 462h12v1h-12zM447 461h12v1h-12zM459 460h4v1h-4zM463 459h3v1h-3zM466 458h2v1h-2zM468 457h3v1h-3zM471 456h3v1h-3zM474 455h2v1h-2zM476 454h2v1h-2zM478 453h2v1h-2zM480 452h2v1h-2zM482 451h2v1h-2zM484 450h2v1h-2zM486 449h2v1h-2zM488 448h2v1h-2zM490 447h2v1h-2zM492 446h2v1h-2zM494 445h2v1h-2zM496 444h2v1h-2zM498 443h2v1h-2zM500 442h2v1h-2zM502 441h2v1h-2zM504 440h7v1h-7zM511 439h4v1h-4zM515 438h4v1h-4zM519 437h4v1h-4zM523 436h8v1h-8zM531 435h12v1h-12zM543 436h8v1h-8zM551 437h4v1h-4zM555 438h4v1h-4zM559 439h4v1h-4zM563 440h8v1h-8zM571 441h4v1h-4zM575 442h4v1h-4zM579 443h4v1h-4zM583 444h3v1h-3zM586 445h2v1h-2zM588 446h2v1h-2zM590 447h2v1h-2zM592 448h2v1h-2zM594 449h2v1h-2zM596 450h2v1h-2zM598 451h1v1h-1zM599 452h2v1h-2zM601 453h1v1h-1zM602 454h1v1h-1zM603 455h2v1h-2zM605 456h1v1h-1zM606 457h1v1h-1zM607 458h2v1h-2zM609 459h1v1h-1zM610 460h1v1h-1zM611 461h2v1h-2zM613 462h1v1h-1zM614 463h2v1h-2zM616 464h2v1h-2zM618 465h1v1h-1zM619 466h2v1h-2zM621 467h1v1h-1zM622 468h1v1h-1zM623 469h2v1h-2zM625 470h1v1h-1zM626 471h2v1h-2zM628 472h6v1h-6zM634 473h2v1h-2zM636 474h2v1h-2zM638 475h2v1h-2zM640 476h2v1h-2zM642 477h2v1h-2zM644 478h3v1h-3zM647 479h3v1h-3zM650 480h2v1h-2zM652 481h3v1h-3zM655 482h4v1h-4zM659 483h4v1h-4zM663 484h4v1h-4zM667 485h4v1h-4zM671 486h32v1h-32zM703 485h3v1h-3zM706 484h2v1h-2zM708 483h3v1h-3zM711 482h3v1h-3zM714 481h2v1h-2zM716 480h2v1h-2zM718 479h1v1h-1zM719 478h2v1h-2zM721 477h1v1h-1zM722 476h1v1h-1zM723 475h2v1h-2zM725 474h1v1h-1zM726 473h1v1h-1zM727 472h2v1h-2zM729 471h1v1h-1zM730 470h2v1h-2zM732 469h2v1h-2zM734 468h1v1h-1zM735 467h2v1h-2zM737 466h1v1h-1zM738 465h1v1h-1zM739 464h1v1h-1zM740 463h1v1h-1zM741 462h1v1h-1zM742 461h2v1h-2zM744 460h2v1h-2zM746 459h2v1h-2zM748 458h3v1h-3zM751 457h3v1h-3zM754 456h2v1h-2zM756 455h2v1h-2zM758 454h2v1h-2zM760 453h2v1h-2zM762 452h2v1h-2zM764 451h3v1h-3zM767 450h3v1h-3zM770 449h2v1h-2zM772 448h2v1h-2zM774 447h2v1h-2zM776 446h3v1h-3zM779 445h3v1h-3zM782 444h2v1h-2zM784 443h2v1h-2zM786 442h2v1h-2zM788 441h2v1h-2zM790 440h2v1h-2zM792 439h3v1h-3zM795 438h3v1h-3zM798 437h2v1h-2zM800 436h2v1h-2zM802 435h1v1h-1zM803 434h2v1h-2zM805 433h1v1h-1zM806 432h2v1h-2zM808 431h2v1h-2zM810 430h2v1h-2zM812 429h3v1h-3zM815 428h3v1h-3zM818 427h2v1h-2zM820 426h2v1h-2zM822 425h2v1h-2zM824 424h2v1h-2zM826 423h2v1h-2zM828 422h3v1h-3zM831 421h3v1h-3zM834 420h1v1h-1zM835 419h2v1h-2zM837 418h1v1h-1zM838 417h1v1h-1zM839 416h1v1h-1zM840 415h1v1h-1zM841 414h1v1h-1zM842 413h1v1h-1zM843 412h1v1h-1zM844 411h1v1h-1zM845 410h1v1h-1zM846 408h1v1h-1zM846 409h1v1h-1zM847 407h1v1h-1zM848 405h1v1h-1zM848 406h1v1h-1zM849 404h1v1h-1zM850 402h1v1h-1zM850 403h1v1h-1zM851 401h1v1h-1zM852 399h1v1h-1zM852 400h1v1h-1zM853 398h1v1h-1zM854 396h1v1h-1zM854 397h1v1h-1zM855 395h1v1h-1zM856 393h1v1h-1zM856 394h1v1h-1zM857 392h1v1h-1zM858 390h1v1h-1zM858 391h1v1h-1zM859 389h1v1h-1zM860 387h1v1h-1zM860 388h1v1h-1zM861 386h1v1h-1zM862 384h1v1h-1zM862 385h1v1h-1zM863 382h1v1h-1zM863 383h1v1h-1zM864 380h1v1h-1zM864 381h1v1h-1zM865 377h1v1h-1zM865 378h1v1h-1zM865 379h1v1h-1zM866 374h1v1h-1zM866 375h1v1h-1zM866 376h1v1h-1zM867 372h1v1h-1zM867 373h1v1h-1zM868 369h1v1h-1zM868 370h1v1h-1zM868 371h1v1h-1zM869 366h1v1h-1zM869 367h1v1h-1zM869 368h1v1h-1zM870 363h1v1h-1zM870 364h1v1h-1zM870 365h1v1h-1zM871 361h1v1h-1zM871 362h1v1h-1zM872 358h1v1h-1zM872 359h1v1h-1zM872 360h1v1h-1zM873 355h1v1h-1zM873 356h1v1h-1zM873 357h1v1h-1zM874 353h1v1h-1zM874 354h1v1h-1zM875 350h1v1h-1zM875 351h1v1h-1zM875 352h1v1h-1zM876 348h1v1h-1zM876 349h1v1h-1zM877 345h1v1h-1zM877 346h1v1h-1zM877 347h1v1h-1zM878 342h1v1h-1zM878 343h1v1h-1zM878 344h1v1h-1zM879 340h1v1h-1zM879 341h1v1h-1zM880 337h1v1h-1zM880 338h1v1h-1zM880 339h1v1h-1zM881 334h1v1h-1zM881 335h1v1h-1zM881 336h1v1h-1zM882 331h1v1h-1zM882 332h1v1h-1zM882 333h1v1h-1zM883 328h1v1h-1zM883 329h1v1h-1zM883 330h1v1h-1zM884 325h1v1h-1zM884 326h1v1h-1zM884 327h1v1h-1zM885 322h1v1h-1zM885 323h1v1h-1zM885 324h1v1h-1zM886 319h1v1h-1zM886 320h1v1h-1zM886 321h1v1h-1zM887 317h1v1h-1zM887 318h1v1h-1zM888 314h1v1h-1zM888 315h1v1h-1zM888 316h1v1h-1zM889 311h1v1h-1zM889 312h1v1h-1zM889 313h1v1h-1zM890 309h1v1h-1zM890 310h1v1h-1zM891 306h1v1h-1zM891 307h1v1h-1zM891 308h1v1h-1zM892 304h1v1h-1zM892 305h1v1h-1zM893 302h1v1h-1zM893 303h1v1h-1zM894 300h1v1h-1zM894 301h1v1h-1zM895 298h1v1h-1zM895 299h1v1h-1zM896 296h1v1h-1zM896 297h1v1h-1zM897 294h1v1h-1zM897 295h1v1h-1zM898 292h1v1h-1zM898 293h1v1h-1zM899 290h1v1h-1zM899 291h1v1h-1zM900 288h1v1h-1zM900 289h1v1h-1zM901 287h1v1h-1zM902 285h1v1h-1zM902 286h1v1h-1zM903 283h1v1h-1zM903 284h1v1h-1zM904 281h1v1h-1zM904 282h1v1h-1zM905 280h1v1h-1zM906 278h1v1h-1zM906 279h1v1h-1zM907 276h1v1h-1zM907 277h1v1h-1zM908 274h1v1h-1zM908 275h1v1h-1zM909 272h1v1h-1zM909 273h1v1h-1zM910 270h1v1h-1zM910 271h1v1h-1zM911 268h1v1h-1zM911 269h1v1h-1zM912 266h1v1h-1zM912 267h1v1h-1zM913 264h1v1h-1zM913 265h1v1h-1zM914 262h1v1h-1zM914 263h1v1h-1zM915 260h1v1h-1zM915 261h1v1h-1zM916 258h1v1h-1zM916 259h1v1h-1zM917 256h1v1h-1zM917 257h1v1h-1zM918 254h1v1h-1zM918 255h1v1h-1zM919 252h1v1h-1zM919 253h1v1h-1zM920 250h1v1h-1zM920 251h1v1h-1zM921 249h1v1h-1zM922 247h1v1h-1zM922 248h1v1h-1zM923 245h1v1h-1zM923 246h1v1h-1zM924 243h1v1h-1zM924 244h1v1h-1zM925 242h1v1h-1zM926 240h1v1h-1zM926 241h1v1h-1zM927 239h1v1h-1zM928 237h1v1h-1zM928 238h1v1h-1zM929 236h1v1h-1zM930 234h1v1h-1zM930 235h1v1h-1zM931 232h1v1h-1zM931 233h1v1h-1zM932 230h1v1h-1zM932 231h1v1h-1zM933 229h1v1h-1zM934 227h1v1h-1zM934 228h1v1h-1zM935 226h1v1h-1zM936 224h1v1h-1zM936 225h1v1h-1zM937 223h1v1h-1zM938 221h1v1h-1zM938 222h1v1h-1zM939 220h1v1h-1zM940 218h1v1h-1zM940 219h1v1h-1zM941 217h1v1h-1zM942 216h1v1h-1zM943 214h1v1h-1zM943 215h1v1h-1zM944 213h1v1h-1zM945 212h1v1h-1zM946 211h1v1h-1zM947 209h1v1h-1zM947 210h1v1h-1zM948 208h1v1h-1zM949 207h1v1h-1zM950 206h1v1h-1zM951 204h1v1h-1zM951 205h1v1h-1zM952 203h1v1h-1zM953 202h1v1h-1zM954 201h1v1h-1zM955 200h2v1h-2zM957 199h1v1h-1zM958 198h2v1h-2zM960 197h2v1h-2zM962 196h1v1h-1zM963 195h2v1h-2zM965 194h1v1h-1zM966 193h2v1h-2zM968 192h3v1h-3zM971 191h4v1h-4zM975 190h11v1h-11zM986 191h1v1h-1zM987 192h2v1h-2zM989 193h1v1h-1zM990 194h1v1h-1zM991 195h1v1h-1zM992 196h1v1h-1zM993 197h1v1h-1zM994 198h1v1h-1zM995 199h2v1h-2zM997 200h1v1h-1zM998 201h2v1h-2zM1000 202h2v1h-2zM1002 203h1v1h-1zM1003 204h1v1h-1zM1003 205h1v1h-1zM1004 206h1v1h-1zM1005 207h1v1h-1zM1006 208h1v1h-1zM1007 209h1v1h-1zM1008 210h1v1h-1zM1009 211h1v1h-1zM1010 212h1v1h-1zM1011 213h1v1h-1zM1012 214h1v1h-1zM1013 215h2v1h-2zM1015 216h8v1h-8zM1023 215h4v1h-4zM1027 216h8v1h-8zM1035 217h4v1h-4zM1039 218h3v1h-3zM1042 219h1v1h-1zM1043 220h2v1h-2zM1045 221h1v1h-1zM1046 222h2v1h-2zM1048 223h3v1h-3zM1051 224h4v1h-4zM1055 223h8v1h-8zM1063 222h3v1h-3zM1066 221h2v1h-2zM1068 220h3v1h-3zM1071 219h11v1h-11zM1082 220h2v1h-2zM1084 221h2v1h-2zM1086 222h2v1h-2zM1088 223h11v1h-11zM1099 224h3v1h-3zM1102 225h1v1h-1zM1103 226h2v1h-2zM1105 227h1v1h-1zM1106 228h1v1h-1zM1107 229h2v1h-2zM1109 230h1v1h-1zM1110 231h1v1h-1zM1111 232h2v1h-2zM1113 233h1v1h-1zM1114 234h1v1h-1zM1115 235h2v1h-2zM1117 236h1v1h-1zM1118 237h1v1h-1zM1119 238h2v1h-2zM1121 239h1v1h-1zM1122 240h1v1h-1zM1123 241h1v1h-1zM1124 242h1v1h-1zM1125 243h1v1h-1zM1126 244h1v1h-1zM1127 245h1v1h-1zM1128 246h1v1h-1zM1129 247h1v1h-1zM1130 248h1v1h-1zM1131 249h1v1h-1zM1132 250h1v1h-1zM1133 251h1v1h-1zM1134 252h1v1h-1zM1135 253h2v1h-2zM1137 254h1v1h-1zM1138 255h1v1h-1zM1138 256h1v1h-1zM1139 257h1v1h-1zM1139 258h1v1h-1zM1140 259h1v1h-1zM1140 260h1v1h-1zM1141 261h1v1h-1zM1142 262h1v1h-1zM1142 263h1v1h-1zM1143 264h1v1h-1zM1144 265h1v1h-1zM1144 266h1v1h-1zM1145 267h1v1h-1zM1146 268h1v1h-1zM1146 269h1v1h-1zM1147 270h1v1h-1zM1148 271h1v1h-1zM1148 272h1v1h-1zM1149 273h1v1h-1zM1150 274h1v1h-1zM1151 275h1v1h-1zM1151 276h1v1h-1zM1152 277h1v1h-1zM1153 278h1v1h-1zM1154 279h1v1h-1zM1154 280h1v1h-1zM1155 281h1v1h-1zM1155 282h1v1h-1zM1156 283h1v1h-1zM1156 284h1v1h-1zM1157 285h1v1h-1zM1158 286h1v1h-1zM1159 287h1v1h-1zM1160 288h1v1h-1zM1161 289h1v1h-1zM1162 290h1v1h-1zM1163 291h2v1h-2zM1165 292h1v1h-1zM1166 293h1v1h-1zM1167 294h2v1h-2zM1169 295h1v1h-1zM1170 296h1v1h-1zM1171 297h1v1h-1zM1172 298h1v1h-1zM1173 299h1v1h-1zM1174 300h1v1h-1zM1175 301h1v1h-1zM1176 302h1v1h-1zM1177 303h1v1h-1zM1178 304h1v1h-1zM1179 305h1v1h-1zM1180 306h1v1h-1zM1181 307h1v1h-1zM1182 308h1v1h-1zM1183 309h1v1h-1zM1183 310h1v1h-1zM1184 311h1v1h-1zM1185 312h1v1h-1zM1186 313h1v1h-1zM1187 314h1v1h-1zM1188 315h1v1h-1zM1189 316h1v1h-1zM1190 317h1v1h-1zM1191 318h1v1h-1zM1191 319h1v1h-1zM1192 320h1v1h-1zM1193 321h1v1h-1zM1194 322h1v1h-1zM1195 323h1v1h-1zM1196 324h1v1h-1zM1197 325h1v1h-1zM1198 326h1v1h-1zM1199 327h2v1h-2zM1201 328h1v1h-1zM1202 329h1v1h-1zM1203 330h2v1h-2zM1205 331h1v1h-1zM1206 332h1v1h-1zM1207 333h2v1h-2zM1209 334h1v1h-1zM1210 335h1v1h-1zM1211 336h2v1h-2zM1213 337h1v1h-1zM1214 338h1v1h-1zM1215 339h2v1h-2zM1217 340h1v1h-1zM1218 341h2v1h-2zM1220 342h2v1h-2zM1222 343h2v1h-2zM1224 344h2v1h-2zM1226 345h2v1h-2zM1228 346h2v1h-2zM1230 347h2v1h-2zM1232 348h2v1h-2zM1234 349h2v1h-2zM1236 350h2v1h-2zM1238 351h2v1h-2zM1240 352h11v1h-11zM1251 351h7v1h-7zM1258 350h2v1h-2zM1260 349h3v1h-3zM1263 348h3v1h-3zM1266 347h2v1h-2zM1268 346h2v1h-2z" fill="#0000cd"/>
<rect x="5" y="201" width="1594" height="2" fill="#ff0000"/>
<rect x="5" y="272" width="1594" height="2" fill="#ff0000"/>
<rect x="5" y="339" width="1594" height="2" fill="#00ff00"/>
<rect x="5" y="421" width="1594" height="2" fill="#0000ff"/>
<rect x="5" y="503" width="1594" height="2" fill="#0000ff"/>
<rect x="4" y="24" width="1594" height="1" fill="#000"/>
<rect x="4" y="530" width="1594" height="1" fill="#000"/>
<rect x="4" y="24" width="1" height="507" fill="#000"/>
<rect x="1597" y="24" width="1" height="507" fill="#000"/>
<rect x="4" y="532" width="1594" height="1" fill="#000"/>
<rect x="4" y="624" width="1594" height="1" fill="#000"/>
<rect x="4" y="532" width="1" height="93" fill="#000"/>
<rect x="1597" y="532" width="1" height="93" fill="#000"/>
<rect x="4" y="626" width="1594" height="1" fill="#000"/>
<rect x="4" y="718" width="1594" height="1" fill="#000"/>
<rect x="4" y="626" width="1" height="93" fill="#000"/>
<rect x="1597" y="626" width="1" height="93" fill="#000"/>
<rect x="1597" y="201" width="2" height="2" fill="#ff0000"/>
<rect x="4" y="199" width="6" height="6" fill="#ff0000"/>
<rect x="6" y="201" width="2" height="2" fill="#fff"/>
<rect x="1591" y="199" width="6" height="6" fill="#ff0000"/>
<rect x="1593" y="201" width="2" height="2" fill="#fff"/>
<rect x="1597" y="272" width="2" height="2" fill="#ff0000"/>
<rect x="4" y="270" width="6" height="6" fill="#ff0000"/>
<rect x="6" y="272" width="2" height="2" fill="#fff"/>
<rect x="1591" y="270" width="6" height="6" fill="#ff0000"/>
<rect x="1593" y="272" width="2" height="2" fill="#fff"/>
<rect x="1597" y="339" width="2" height="2" fill="#00ff00"/>
<rect x="4" y="337" width="6" height="6" fill="#00ff00"/>
<rect x="6" y="339" width="2" height="2" fill="#fff"/>
<rect x="1591" y="337" width="6" height="6" fill="#00ff00"/>
<rect x="1593" y="339" width="2" height="2" fill="#fff"/>
<rect x="1597" y="421" width="2" height="2" fill="#0000ff"/>
<rect x="4" y="419" width="6" height="6" fill="#0000ff"/>
<rect x="6" y="421" width="2" height="2" fill="#fff"/>
<rect x="1591" y="419" width="6" height="6" fill="#0000ff"/>
<rect x="1593" y="421" width="2" height="2" fill="#fff"/>
<rect x="1597" y="503" width="2" height="2" fill="#0000ff"/>
<rect x="4" y="501" width="6" height="6" fill="#0000ff"/>
<rect x="6" y="503" width="2" height="2" fill="#fff"/>
<rect x="1591" y="501" width="6" height="6" fill="#0000ff"/>
<rect x="1593" y="503" width="2" height="2" fill="#fff"/>
<rect x="5" y="560" width="1593" height="1" fill="#fff"/>
<rect x="5" y="560" width="1593" height="1" fill="url(#dash)"/>
<rect x="5" y="596" width="1593" height="1" fill="#fff"/>
<rect x="5" y="596" width="1593" height="1" fill="url(#dash)"/>
<rect x="1598" y="32" width="2" height="1" fill="#000"/>
<rect x="1598" y="65" width="2" height="1" fill="#000"/>
<rect x="1598" y="98" width="2" height="1" fill="#000"/>
<rect x="1598" y="131" width="2" height="1" fill="#000"/>
<rect x="1598" y="164" width="2" height="1" fill="#000"/>
<rect x="1598" y="197" width="2" height="1" fill="#000"/>
<rect x="1598" y="230" width="2" height="1" fill="#000"/>
<rect x="1598" y="263" width="2" height="1" fill="#000"/>
<rect x="1598" y="296" width="2" height="1" fill="#000"/>
<rect x="1598" y="329" width="2" height="1" fill="#000"/>
<rect x="1598" y="362" width="2" height="1" fill="#000"/>
<rect x="1598" y="395" width="2" height="1" fill="#000"/>
<rect x="1598" y="428" width="2" height="1" fill="#000"/>
<rect x="1598" y="461" width="2" height="1" fill="#000"/>
<rect x="1598" y="494" width="2" height="1" fill="#000"/>
<rect x="1598" y="527" width="2" height="1" fill="#000"/>
<rect x="1598" y="534" width="1" height="1" fill="#000"/>
<rect x="1598" y="623" width="1" height="1" fill="#000"/>
<rect x="1598" y="628" width="1" height="1" fill="#000"/>
<rect x="1598" y="686" width="1" height="1" fill="#000"/>
<rect x="1598" y="717" width="1" height="1" fill="#000"/>
<defs><pattern id="dash" x="0" y="0" width="6" height="1" patternUnits="userSpaceOnUse"><rect x="0" y="0" width="3" height="1" fill="#c0c0c0"/></pattern></defs>
<path d="M5 589h1v1h-1zM6 590h1v1h-1zM7 591h2v1h-2zM9 592h1v1h-1zM10 593h1v1h-1zM11 594h2v1h-2zM13 595h2v1h-2zM15 596h3v1h-3zM18 595h2v1h-2zM20 594h2v1h-2zM22 593h2v1h-2zM24 592h3v1h-3zM27 593h3v1h-3zM29 592h1v1h-1zM30 590h1v1h-1zM30 591h1v1h-1zM31 588h1v1h-1zM31 589h1v1h-1zM32 586h1v1h-1zM32 587h1v1h-1zM33 584h2v1h-2zM33 585h1v1h-1zM35 585h3v1h-3zM38 586h2v1h-2zM40 587h2v1h-2zM42 585h1v1h-1zM42 586h1v1h-1zM43 583h1v1h-1zM43 584h1v1h-1zM44 581h1v1h-1zM44 582h1v1h-1zM45 579h1v1h-1zM45 580h1v1h-1zM46 578h1v1h-1zM47 577h2v1h-2zM49 576h6v1h-6zM55 575h3v1h-3zM58 573h1v1h-1zM58 574h1v1h-1zM59 572h1v1h-1zM60 570h1v1h-1zM60 571h1v1h-1zM61 569h1v1h-1zM62 570h1v1h-1zM63 571h2v1h-2zM65 572h1v1h-1zM66 573h1v1h-1zM67 574h1v1h-1zM68 575h1v1h-1zM69 576h1v1h-1zM70 575h1v1h-1zM71 574h2v1h-2zM73 573h1v1h-1zM74 574h1v1h-1zM75 575h1v1h-1zM76 576h1v1h-1zM77 577h1v1h-1zM78 575h1v1h-1zM78 576h1v1h-1zM79 573h1v1h-1zM79 574h1v1h-1zM80 571h1v1h-1zM80 572h1v1h-1zM81 569h2v1h-2zM81 570h1v1h-1zM83 568h3v1h-3zM86 569h2v1h-2zM88 570h2v1h-2zM90 571h2v1h-2zM92 572h2v1h-2zM94 570h1v1h-1zM94 571h1v1h-1zM95 568h1v1h-1zM95 569h1v1h-1zM96 566h1v1h-1zM96 567h1v1h-1zM97 565h1v1h-1zM98 563h1v1h-1zM98 564h1v1h-1zM99 562h1v1h-1zM100 560h2v1h-2zM100 561h1v1h-1zM101 559h1v1h-1zM102 561h1v1h-1zM102 562h1v1h-1zM102 563h1v1h-1zM103 564h1v1h-1zM103 565h1v1h-1zM103 566h1v1h-1zM103 567h1v1h-1zM104 568h1v1h-1zM104 569h1v1h-1zM104 570h1v1h-1zM105 571h1v1h-1zM105 572h2v1h-2zM107 573h3v1h-3zM110 574h2v1h-2zM112 575h2v1h-2zM114 574h2v1h-2zM116 573h2v1h-2zM118 574h2v1h-2zM120 575h2v1h-2zM121 574h1v1h-1zM122 572h1v1h-1zM122 573h1v1h-1zM123 570h1v1h-1zM123 571h1v1h-1zM124 568h1v1h-1zM124 569h1v1h-1zM125 566h2v1h-2zM125 567h1v1h-1zM127 565h3v1h-3zM130 566h1v1h-1zM130 567h1v1h-1zM131 568h1v1h-1zM132 569h1v1h-1zM132 570h1v1h-1zM133 571h1v1h-1zM134 572h2v1h-2zM136 573h2v1h-2zM138 572h1v1h-1zM139 571h2v1h-2zM141 570h1v1h-1zM142 569h1v1h-1zM143 568h2v1h-2zM145 567h1v1h-1zM146 568h1v1h-1zM146 569h1v1h-1zM147 570h1v1h-1zM148 571h1v1h-1zM148 572h1v1h-1zM149 573h2v1h-2zM151 572h3v1h-3zM154 571h2v1h-2zM156 570h2v1h-2zM158 571h1v1h-1zM159 572h2v1h-2zM161 573h2v1h-2zM163 574h3v1h-3zM166 575h2v1h-2zM168 576h2v1h-2zM170 575h1v1h-1zM171 574h2v1h-2zM173 573h6v1h-6zM179 574h3v1h-3zM182 573h1v1h-1zM183 572h2v1h-2zM185 571h2v1h-2zM187 570h4v1h-4zM191 569h3v1h-3zM193 570h1v1h-1zM194 571h1v1h-1zM194 572h1v1h-1zM194 573h1v1h-1zM195 574h1v1h-1zM195 575h1v1h-1zM195 576h1v1h-1zM196 577h1v1h-1zM196 578h1v1h-1zM196 579h1v1h-1zM197 580h1v1h-1zM197 581h2v1h-2zM199 582h3v1h-3zM202 583h1v1h-1zM202 584h1v1h-1zM203 585h1v1h-1zM203 586h1v1h-1zM204 587h1v1h-1zM204 588h1v1h-1zM205 589h2v1h-2zM207 588h3v1h-3zM210 589h1v1h-1zM211 590h2v1h-2zM213 591h5v1h-5zM217 590h1v1h-1zM218 588h1v1h-1zM218 589h1v1h-1zM219 586h1v1h-1zM219 587h1v1h-1zM220 584h1v1h-1zM220 585h1v1h-1zM221 582h2v1h-2zM221 583h1v1h-1zM223 581h3v1h-3zM226 579h1v1h-1zM226 580h1v1h-1zM227 577h1v1h-1zM227 578h1v1h-1zM228 575h1v1h-1zM228 576h1v1h-1zM229 574h2v1h-2zM231 573h3v1h-3zM234 574h1v1h-1zM235 575h1v1h-1zM235 576h1v1h-1zM236 577h1v1h-1zM237 578h2v1h-2zM239 577h3v1h-3zM242 576h1v1h-1zM243 575h1v1h-1zM244 574h1v1h-1zM245 573h1v1h-1zM246 574h1v1h-1zM247 575h2v1h-2zM249 576h2v1h-2zM251 575h4v1h-4zM255 574h4v1h-4zM259 575h3v1h-3zM262 576h2v1h-2zM264 577h2v1h-2zM266 576h1v1h-1zM267 575h2v1h-2zM269 574h2v1h-2zM271 575h3v1h-3zM274 576h1v1h-1zM275 577h1v1h-1zM276 578h1v1h-1zM277 579h2v1h-2zM279 580h4v1h-4zM283 579h3v1h-3zM286 580h1v1h-1zM287 581h3v1h-3zM289 582h1v1h-1zM290 578h1v1h-1zM290 579h1v1h-1zM290 580h1v1h-1zM291 575h1v1h-1zM291 576h1v1h-1zM291 577h1v1h-1zM292 572h1v1h-1zM292 573h1v1h-1zM292 574h1v1h-1zM293 570h2v1h-2zM293 571h1v1h-1zM295 569h4v1h-4zM299 568h3v1h-3zM302 569h2v1h-2zM304 570h2v1h-2zM306 571h2v1h-2zM308 572h2v1h-2zM310 571h1v1h-1zM311 570h2v1h-2zM313 569h2v1h-2zM315 570h3v1h-3zM317 571h1v1h-1zM318 572h1v1h-1zM318 573h1v1h-1zM319 574h1v1h-1zM319 575h1v1h-1zM320 576h1v1h-1zM320 577h1v1h-1zM321 578h1v1h-1zM321 579h1v1h-1zM321 580h1v1h-1zM322 581h1v1h-1zM322 582h1v1h-1zM322 583h1v1h-1zM323 584h1v1h-1zM323 585h1v1h-1zM324 586h1v1h-1zM324 587h1v1h-1zM324 588h1v1h-1zM325 589h1v1h-1zM325 590h2v1h-2zM327 589h3v1h-3zM330 587h1v1h-1zM330 588h1v1h-1zM331 585h1v1h-1zM331 586h1v1h-1zM332 583h1v1h-1zM332 584h1v1h-1zM333 582h1v1h-1zM334 583h1v1h-1zM335 584h1v1h-1zM336 585h1v1h-1zM337 586h5v1h-5zM342 587h1v1h-1zM343 588h1v1h-1zM343 589h1v1h-1zM344 590h1v1h-1zM345 591h2v1h-2zM347 592h4v1h-4zM351 593h4v1h-4zM355 594h3v1h-3zM358 595h2v1h-2zM360 596h2v1h-2zM362 595h2v1h-2zM364 594h2v1h-2zM366 595h2v1h-2zM368 596h3v1h-3zM371 597h8v1h-8zM379 596h3v1h-3zM382 595h1v1h-1zM383 594h2v1h-2zM385 591h1v1h-1zM385 592h1v1h-1zM385 593h1v1h-1zM386 587h1v1h-1zM386 588h1v1h-1zM386 589h1v1h-1zM386 590h1v1h-1zM387 582h1v1h-1zM387 583h1v1h-1zM387 584h1v1h-1zM387 585h1v1h-1zM387 586h1v1h-1zM388 578h1v1h-1zM388 579h1v1h-1zM388 580h1v1h-1zM388 581h1v1h-1zM389 575h1v1h-1zM389 576h2v1h-2zM389 577h1v1h-1zM391 577h1v1h-1zM391 578h1v1h-1zM392 579h1v1h-1zM393 580h13v1h-13zM406 579h1v1h-1zM407 578h2v1h-2zM409 577h1v1h-1zM410 576h2v1h-2zM412 575h3v1h-3zM415 576h3v1h-3zM418 574h1v1h-1zM418 575h1v1h-1zM419 572h1v1h-1zM419 573h1v1h-1zM420 570h1v1h-1zM420 571h1v1h-1zM421 569h2v1h-2zM423 568h3v1h-3zM426 569h1v1h-1zM427 570h2v1h-2zM429 571h1v1h-1zM430 570h1v1h-1zM431 569h2v1h-2zM433 568h2v1h-2zM435 567h3v1h-3zM438 566h2v1h-2zM440 565h2v1h-2zM442 566h1v1h-1zM442 567h1v1h-1zM443 568h1v1h-1zM443 569h1v1h-1zM444 570h1v1h-1zM444 571h1v1h-1zM445 572h3v1h-3zM445 573h1v1h-1zM448 571h2v1h-2zM450 572h1v1h-1zM451 573h1v1h-1zM452 574h1v1h-1zM453 575h1v1h-1zM454 574h1v1h-1zM455 573h2v1h-2zM457 572h1v1h-1zM458 570h1v1h-1zM458 571h1v1h-1zM459 568h1v1h-1zM459 569h1v1h-1zM460 566h1v1h-1zM460 567h1v1h-1zM461 564h1v1h-1zM461 565h2v1h-2zM463 566h2v1h-2zM465 567h2v1h-2zM467 566h4v1h-4zM471 565h3v1h-3zM474 564h2v1h-2zM476 563h2v1h-2zM478 564h1v1h-1zM479 565h1v1h-1zM479 566h1v1h-1zM480 567h1v1h-1zM481 568h1v1h-1zM482 569h2v1h-2zM484 570h3v1h-3zM487 569h3v1h-3zM490 570h2v1h-2zM492 571h6v1h-6zM498 570h1v1h-1zM499 569h2v1h-2zM501 568h1v1h-1zM502 569h2v1h-2zM504 570h2v1h-2zM505 571h1v1h-1zM506 572h1v1h-1zM506 573h1v1h-1zM507 574h1v1h-1zM507 575h1v1h-1zM507 576h1v1h-1zM508 577h1v1h-1zM508 578h1v1h-1zM509 579h1v1h-1zM509 580h1v1h-1zM510 581h1v1h-1zM510 582h1v1h-1zM511 583h1v1h-1zM511 584h1v1h-1zM512 585h1v1h-1zM512 586h1v1h-1zM513 587h1v1h-1zM513 588h1v1h-1zM514 584h1v1h-1zM514 585h1v1h-1zM514 586h1v1h-1zM515 580h1v1h-1zM515 581h1v1h-1zM515 582h1v1h-1zM515 583h1v1h-1zM516 577h1v1h-1zM516 578h1v1h-1zM516 579h1v1h-1zM517 575h1v1h-1zM517 576h3v1h-3zM520 577h2v1h-2zM522 578h1v1h-1zM523 579h2v1h-2zM525 580h5v1h-5zM530 581h2v1h-2zM532 582h2v1h-2zM534 583h1v1h-1zM535 584h2v1h-2zM537 585h1v1h-1zM538 584h2v1h-2zM540 583h2v1h-2zM542 584h1v1h-1zM543 585h2v1h-2zM545 586h1v1h-1zM546 587h1v1h-1zM547 588h2v1h-2zM549 589h2v1h-2zM551 588h3v1h-3zM554 589h1v1h-1zM555 590h1v1h-1zM555 591h1v1h-1zM556 592h1v1h-1zM557 593h1v1h-1zM558 592h1v1h-1zM559 591h1v1h-1zM560 590h1v1h-1zM561 589h1v1h-1zM562 587h1v1h-1zM562 588h1v1h-1zM563 586h1v1h-1zM564 584h1v1h-1zM564 585h1v1h-1zM565 583h6v1h-6zM571 582h3v1h-3zM574 583h1v1h-1zM575 584h2v1h-2zM577 585h1v1h-1zM578 584h2v1h-2zM580 583h2v1h-2zM582 584h1v1h-1zM582 585h1v1h-1zM583 586h1v1h-1zM584 587h1v1h-1zM584 588h1v1h-1zM585 589h1v1h-1zM586 590h1v1h-1zM587 591h2v1h-2zM589 592h2v1h-2zM591 593h3v1h-3zM594 594h2v1h-2zM596 595h2v1h-2zM598 596h1v1h-1zM598 597h1v1h-1zM599 598h1v1h-1zM599 599h1v1h-1zM600 600h1v1h-1zM600 601h1v1h-1zM601 602h1v1h-1zM602 601h1v1h-1zM603 600h1v1h-1zM604 599h1v1h-1zM605 598h6v1h-6zM611 597h4v1h-4zM615 596h3v1h-3zM618 597h2v1h-2zM620 598h2v1h-2zM621 597h1v1h-1zM622 595h1v1h-1zM622 596h1v1h-1zM623 593h1v1h-1zM623 594h1v1h-1zM624 591h1v1h-1zM624 592h1v1h-1zM625 589h1v1h-1zM625 590h1v1h-1zM626 588h1v1h-1zM627 587h1v1h-1zM628 586h1v1h-1zM629 585h1v1h-1zM630 583h1v1h-1zM630 584h1v1h-1zM631 581h1v1h-1zM631 582h1v1h-1zM632 579h1v1h-1zM632 580h1v1h-1zM633 577h1v1h-1zM633 578h2v1h-2zM635 579h1v1h-1zM635 580h1v1h-1zM636 581h1v1h-1zM637 582h2v1h-2zM639 581h4v1h-4zM643 582h3v1h-3zM646 581h2v1h-2zM648 580h2v1h-2zM650 581h2v1h-2zM652 582h3v1h-3zM655 583h3v1h-3zM658 582h1v1h-1zM659 581h2v1h-2zM661 580h2v1h-2zM663 579h3v1h-3zM666 580h2v1h-2zM668 581h2v1h-2zM670 580h2v1h-2zM672 579h2v1h-2zM674 577h1v1h-1zM674 578h1v1h-1zM675 575h1v1h-1zM675 576h1v1h-1zM676 573h1v1h-1zM676 574h1v1h-1zM677 571h1v1h-1zM677 572h1v1h-1zM678 570h1v1h-1zM679 569h2v1h-2zM681 568h1v1h-1zM682 569h2v1h-2zM684 570h3v1h-3zM687 569h3v1h-3zM690 568h1v1h-1zM691 567h1v1h-1zM692 566h1v1h-1zM693 565h2v1h-2zM695 564h3v1h-3zM698 563h2v1h-2zM700 562h2v1h-2zM702 561h2v1h-2zM704 560h7v1h-7zM711 559h3v1h-3zM714 558h1v1h-1zM715 557h2v1h-2zM717 556h2v1h-2zM719 555h3v1h-3zM722 554h2v1h-2zM724 553h11v1h-11zM735 554h3v1h-3zM738 553h2v1h-2zM740 552h2v1h-2zM741 553h1v1h-1zM742 554h1v1h-1zM742 555h1v1h-1zM743 556h1v1h-1zM743 557h1v1h-1zM743 558h1v1h-1zM744 559h1v1h-1zM744 560h1v1h-1zM745 561h1v1h-1zM745 562h1v1h-1zM746 563h1v1h-1zM746 564h1v1h-1zM747 565h1v1h-1zM748 566h1v1h-1zM748 567h1v1h-1zM749 568h1v1h-1zM750 569h2v1h-2zM752 570h3v1h-3zM755 569h3v1h-3zM758 570h2v1h-2zM760 571h2v1h-2zM762 572h1v1h-1zM763 573h2v1h-2zM765 574h1v1h-1zM766 573h1v1h-1zM767 572h2v1h-2zM769 571h1v1h-1zM770 572h1v1h-1zM771 573h1v1h-1zM772 574h1v1h-1zM773 575h1v1h-1zM774 576h2v1h-2zM776 577h3v1h-3zM779 578h3v1h-3zM782 579h1v1h-1zM783 580h3v1h-3zM785 581h1v1h-1zM786 577h1v1h-1zM786 578h1v1h-1zM786 579h1v1h-1zM787 575h1v1h-1zM787 576h1v1h-1zM788 572h1v1h-1zM788 573h1v1h-1zM788 574h1v1h-1zM789 570h1v1h-1zM789 571h1v1h-1zM790 569h1v1h-1zM791 568h2v1h-2zM793 567h2v1h-2zM795 566h3v1h-3zM798 564h1v1h-1zM798 565h1v1h-1zM799 562h1v1h-1zM799 563h1v1h-1zM800 560h1v1h-1zM800 561h1v1h-1zM801 559h1v1h-1zM802 558h1v1h-1zM803 556h1v1h-1zM803 557h1v1h-1zM804 555h1v1h-1zM805 554h1v1h-1zM806 555h1v1h-1zM807 556h1v1h-1zM808 557h1v1h-1zM809 558h1v1h-1zM810 559h1v1h-1zM811 560h2v1h-2zM813 561h1v1h-1zM813 562h1v1h-1zM814 563h1v1h-1zM814 564h1v1h-1zM815 565h1v1h-1zM815 566h1v1h-1zM816 567h1v1h-1zM816 568h1v1h-1zM817 569h2v1h-2zM817 570h1v1h-1zM818 568h1v1h-1zM819 567h1v1h-1zM820 565h1v1h-1zM820 566h1v1h-1zM821 564h5v1h-5zM826 563h2v1h-2zM828 562h3v1h-3zM831 563h3v1h-3zM834 561h1v1h-1zM834 562h1v1h-1zM835 559h1v1h-1zM835 560h1v1h-1zM836 557h1v1h-1zM836 558h1v1h-1zM837 555h1v1h-1zM837 556h1v1h-1zM838 553h1v1h-1zM838 554h1v1h-1zM839 551h1v1h-1zM839 552h1v1h-1zM840 549h1v1h-1zM840 550h1v1h-1zM841 547h1v1h-1zM841 548h2v1h-2zM843 549h1v1h-1zM844 550h1v1h-1zM845 551h1v1h-1zM846 550h1v1h-1zM847 549h1v1h-1zM848 548h1v1h-1zM849 547h1v1h-1zM850 546h2v1h-2zM852 545h2v1h-2zM854 546h1v1h-1zM854 547h1v1h-1zM855 548h1v1h-1zM855 549h1v1h-1zM856 550h1v1h-1zM856 551h1v1h-1zM857 552h2v1h-2zM859 551h3v1h-3zM862 550h1v1h-1zM863 548h1v1h-1zM863 549h1v1h-1zM864 547h1v1h-1zM865 546h1v1h-1zM866 545h1v1h-1zM867 544h2v1h-2zM869 543h1v1h-1zM870 544h1v1h-1zM871 545h1v1h-1zM872 546h1v1h-1zM873 547h1v1h-1zM874 548h1v1h-1zM874 549h1v1h-1zM875 550h1v1h-1zM876 551h1v1h-1zM876 552h1v1h-1zM877 553h2v1h-2zM879 552h4v1h-4zM883 551h3v1h-3zM886 552h1v1h-1zM887 553h1v1h-1zM888 554h1v1h-1zM889 555h1v1h-1zM890 556h1v1h-1zM890 557h1v1h-1zM891 558h1v1h-1zM891 559h1v1h-1zM892 560h1v1h-1zM892 561h1v1h-1zM893 562h1v1h-1zM893 563h1v1h-1zM894 564h1v1h-1zM894 565h1v1h-1zM894 566h1v1h-1zM895 567h1v1h-1zM895 568h1v1h-1zM895 569h1v1h-1zM896 570h1v1h-1zM896 571h1v1h-1zM896 572h1v1h-1zM897 573h1v1h-1zM897 574h2v1h-2zM899 573h3v1h-3zM902 574h1v1h-1zM903 575h1v1h-1zM903 576h1v1h-1zM904 577h1v1h-1zM905 578h1v1h-1zM906 576h1v1h-1zM906 577h1v1h-1zM907 574h1v1h-1zM907 575h1v1h-1zM908 572h1v1h-1zM908 573h1v1h-1zM909 571h1v1h-1zM910 572h2v1h-2zM912 573h2v1h-2zM914 572h1v1h-1zM915 571h2v1h-2zM917 570h1v1h-1zM918 571h1v1h-1zM919 572h1v1h-1zM920 573h1v1h-1zM921 574h2v1h-2zM923 573h8v1h-8zM931 574h3v1h-3zM934 575h1v1h-1zM934 576h1v1h-1zM935 577h1v1h-1zM936 578h1v1h-1zM936 579h1v1h-1zM937 580h1v1h-1zM938 579h2v1h-2zM940 578h3v1h-3zM943 579h4v1h-4zM947 580h8v1h-8zM955 581h3v1h-3zM958 582h2v1h-2zM960 583h2v1h-2zM961 582h1v1h-1zM962 580h1v1h-1zM962 581h1v1h-1zM963 577h1v1h-1zM963 578h1v1h-1zM963 579h1v1h-1zM964 575h1v1h-1zM964 576h1v1h-1zM965 573h2v1h-2zM965 574h1v1h-1zM967 572h3v1h-3zM970 573h1v1h-1zM971 574h1v1h-1zM971 575h1v1h-1zM972 576h1v1h-1zM973 577h2v1h-2zM975 578h3v1h-3zM978 577h2v1h-2zM980 576h2v1h-2zM982 574h1v1h-1zM982 575h1v1h-1zM983 573h1v1h-1zM984 571h1v1h-1zM984 572h1v1h-1zM985 570h1v1h-1zM986 571h1v1h-1zM987 572h1v1h-1zM988 573h1v1h-1zM989 574h1v1h-1zM990 575h1v1h-1zM991 576h1v1h-1zM992 577h1v1h-1zM993 578h1v1h-1zM994 577h1v1h-1zM995 576h2v1h-2zM997 575h5v1h-5zM1002 576h1v1h-1zM1003 577h2v1h-2zM1005 578h1v1h-1zM1006 579h1v1h-1zM1007 580h2v1h-2zM1009 581h1v1h-1zM1010 582h2v1h-2zM1012 583h3v1h-3zM1015 584h3v1h-3zM1017 583h1v1h-1zM1018 581h1v1h-1zM1018 582h1v1h-1zM1019 579h1v1h-1zM1019 580h1v1h-1zM1020 577h1v1h-1zM1020 578h1v1h-1zM1021 575h2v1h-2zM1021 576h1v1h-1zM1023 576h7v1h-7zM1030 577h2v1h-2zM1032 578h2v1h-2zM1034 577h1v1h-1zM1035 575h1v1h-1zM1035 576h1v1h-1zM1036 574h1v1h-1zM1037 573h1v1h-1zM1038 574h1v1h-1zM1038 575h1v1h-1zM1039 576h1v1h-1zM1039 577h1v1h-1zM1040 578h1v1h-1zM1040 579h1v1h-1zM1041 580h1v1h-1zM1041 581h1v1h-1zM1042 582h2v1h-2zM1044 583h3v1h-3zM1047 582h3v1h-3zM1050 581h1v1h-1zM1051 580h1v1h-1zM1052 579h1v1h-1zM1053 578h2v1h-2zM1055 579h3v1h-3zM1058 578h1v1h-1zM1059 577h1v1h-1zM1060 576h1v1h-1zM1061 575h10v1h-10zM1071 574h3v1h-3zM1074 575h1v1h-1zM1074 576h1v1h-1zM1075 577h1v1h-1zM1075 578h1v1h-1zM1076 579h1v1h-1zM1076 580h1v1h-1zM1077 581h1v1h-1zM1077 582h1v1h-1zM1078 583h1v1h-1zM1079 584h2v1h-2zM1081 585h2v1h-2zM1083 584h3v1h-3zM1086 583h1v1h-1zM1087 582h2v1h-2zM1089 581h1v1h-1zM1090 580h1v1h-1zM1091 579h1v1h-1zM1092 578h1v1h-1zM1093 577h1v1h-1zM1094 578h2v1h-2zM1096 579h3v1h-3zM1099 580h3v1h-3zM1102 581h1v1h-1zM1102 582h1v1h-1zM1103 583h1v1h-1zM1103 584h1v1h-1zM1104 585h1v1h-1zM1104 586h1v1h-1zM1105 587h1v1h-1zM1106 588h2v1h-2zM1108 589h3v1h-3zM1111 590h3v1h-3zM1114 589h1v1h-1zM1115 588h1v1h-1zM1116 587h1v1h-1zM1117 586h1v1h-1zM1118 587h2v1h-2zM1120 588h2v1h-2zM1122 589h1v1h-1zM1122 590h1v1h-1zM1123 591h1v1h-1zM1124 592h1v1h-1zM1124 593h1v1h-1zM1125 594h1v1h-1zM1126 595h1v1h-1zM1127 596h2v1h-2zM1129 597h2v1h-2zM1131 598h3v1h-3zM1134 597h2v1h-2zM1136 596h2v1h-2zM1138 597h1v1h-1zM1139 598h2v1h-2zM1141 599h2v1h-2zM1143 598h4v1h-4zM1147 599h3v1h-3zM1150 598h1v1h-1zM1151 597h1v1h-1zM1152 596h1v1h-1zM1153 595h2v1h-2zM1155 596h3v1h-3zM1157 595h1v1h-1zM1158 592h1v1h-1zM1158 593h1v1h-1zM1158 594h1v1h-1zM1159 590h1v1h-1zM1159 591h1v1h-1zM1160 587h1v1h-1zM1160 588h1v1h-1zM1160 589h1v1h-1zM1161 585h1v1h-1zM1161 586h1v1h-1zM1162 584h2v1h-2zM1164 583h2v1h-2zM1166 582h2v1h-2zM1168 581h3v1h-3zM1171 582h3v1h-3zM1174 583h2v1h-2zM1176 584h6v1h-6zM1182 583h2v1h-2zM1184 582h10v1h-10zM1194 583h1v1h-1zM1195 584h2v1h-2zM1197 585h1v1h-1zM1198 586h2v1h-2zM1200 587h2v1h-2zM1202 585h1v1h-1zM1202 586h1v1h-1zM1203 583h1v1h-1zM1203 584h1v1h-1zM1204 581h1v1h-1zM1204 582h1v1h-1zM1205 580h1v1h-1zM1206 579h1v1h-1zM1207 578h1v1h-1zM1208 577h1v1h-1zM1209 576h1v1h-1zM1210 575h1v1h-1zM1211 574h2v1h-2zM1213 573h1v1h-1zM1214 574h1v1h-1zM1215 575h1v1h-1zM1216 576h1v1h-1zM1217 577h1v1h-1zM1218 576h1v1h-1zM1219 575h2v1h-2zM1221 574h1v1h-1zM1222 575h1v1h-1zM1222 576h1v1h-1zM1223 577h1v1h-1zM1224 578h1v1h-1zM1224 579h1v1h-1zM1225 580h1v1h-1zM1226 581h2v1h-2zM1228 582h3v1h-3zM1231 581h3v1h-3zM1234 582h2v1h-2zM1236 583h7v1h-7zM1243 584h3v1h-3zM1246 583h1v1h-1zM1247 582h1v1h-1zM1248 581h1v1h-1zM1249 580h1v1h-1zM1250 581h1v1h-1zM1251 582h1v1h-1zM1252 583h1v1h-1zM1253 584h1v1h-1zM1254 583h1v1h-1zM1255 582h1v1h-1zM1256 581h1v1h-1zM1257 580h2v1h-2zM1259 579h4v1h-4zM1263 580h4v1h-4zM1267 579h3v1h-3z" fill="#1e90ff"/>
<path d="M5 686h1V698h-1ZM9 686h1V698h-1ZM13 686h1V698h-1ZM17 686h1V698h-1ZM21 686h1V698h-1ZM25 686h1V698h-1ZM29 686h1V697h-1ZM33 686h1V696h-1ZM37 686h1V695h-1ZM41 686h1V695h-1ZM45 686h1V694h-1ZM49 686h1V692h-1ZM53 686h1V691h-1ZM57 686h1V690h-1ZM61 686h1V689h-1ZM65 686h1V688h-1ZM69 686h1V688h-1ZM73 686h1V687h-1ZM77 686h1V687h-1ZM81 685h1V687h-1ZM85 684h1V687h-1ZM89 683h1V687h-1ZM93 683h1V687h-1ZM97 682h1V687h-1ZM101 680h1V687h-1ZM105 680h1V687h-1ZM109 681h1V687h-1ZM113 681h1V687h-1ZM117 681h1V687h-1ZM121 681h1V687h-1ZM125 680h1V687h-1ZM129 679h1V687h-1ZM133 679h1V687h-1ZM137 680h1V687h-1ZM141 680h1V687h-1ZM145 679h1V687h-1ZM149 680h1V687h-1ZM153 680h1V687h-1ZM157 679h1V687h-1ZM161 680h1V687h-1ZM165 680h1V687h-1ZM169 681h1V687h-1ZM173 681h1V687h-1ZM177 681h1V687h-1ZM181 682h1V687h-1ZM185 681h1V687h-1ZM189 681h1V687h-1ZM193 681h1V687h-1ZM197 682h1V687h-1ZM201 683h1V687h-1ZM205 685h1V687h-1ZM209 686h1V688h-1ZM213 686h1V689h-1ZM217 686h1V690h-1ZM221 686h1V690h-1ZM225 686h1V690h-1ZM229 686h1V689h-1ZM233 686h1V688h-1ZM237 686h1V688h-1ZM241 686h1V688h-1ZM245 686h1V687h-1ZM249 686h1V687h-1ZM253 685h1V687h-1ZM257 685h1V687h-1ZM261 685h1V687h-1ZM265 685h1V687h-1ZM269 685h1V687h-1ZM273 685h1V687h-1ZM277 685h1V687h-1ZM281 685h1V687h-1ZM285 686h1V687h-1ZM289 686h1V687h-1ZM293 685h1V687h-1ZM297 684h1V687h-1ZM301 684h1V687h-1ZM305 683h1V687h-1ZM309 683h1V687h-1ZM313 683h1V687h-1ZM317 683h1V687h-1ZM321 683h1V687h-1ZM325 685h1V687h-1ZM329 686h1V687h-1ZM333 686h1V688h-1ZM337 686h1V689h-1ZM341 686h1V689h-1ZM345 686h1V691h-1ZM349 686h1V692h-1ZM353 686h1V693h-1ZM357 686h1V694h-1ZM361 686h1V694h-1ZM365 686h1V695h-1ZM369 686h1V695h-1ZM373 686h1V696h-1ZM377 686h1V696h-1ZM381 686h1V696h-1ZM385 686h1V696h-1ZM389 686h1V694h-1ZM393 686h1V693h-1ZM397 686h1V693h-1ZM401 686h1V692h-1ZM405 686h1V691h-1ZM409 686h1V691h-1ZM413 686h1V690h-1ZM417 686h1V689h-1ZM421 686h1V688h-1ZM425 686h1V687h-1ZM429 685h1V687h-1ZM433 685h1V687h-1ZM437 684h1V687h-1ZM441 683h1V687h-1ZM445 683h1V687h-1ZM449 683h1V687h-1ZM453 683h1V687h-1ZM457 683h1V687h-1ZM461 682h1V687h-1ZM465 682h1V687h-1ZM469 681h1V687h-1ZM473 681h1V687h-1ZM477 680h1V687h-1ZM481 680h1V687h-1ZM485 680h1V687h-1ZM489 681h1V687h-1ZM493 681h1V687h-1ZM497 681h1V687h-1ZM501 681h1V687h-1ZM505 681h1V687h-1ZM509 682h1V687h-1ZM513 684h1V687h-1ZM517 684h1V687h-1ZM521 684h1V687h-1ZM525 685h1V687h-1ZM529 685h1V687h-1ZM533 686h1V687h-1ZM537 686h1V687h-1ZM541 686h1V688h-1ZM545 686h1V689h-1ZM549 686h1V689h-1ZM553 686h1V690h-1ZM557 686h1V691h-1ZM561 686h1V692h-1ZM565 686h1V692h-1ZM569 686h1V691h-1ZM573 686h1V691h-1ZM577 686h1V691h-1ZM581 686h1V691h-1ZM585 686h1V691h-1ZM589 686h1V692h-1ZM593 686h1V693h-1ZM597 686h1V694h-1ZM601 686h1V695h-1ZM605 686h1V696h-1ZM609 686h1V697h-1ZM613 686h1V698h-1ZM617 686h1V698h-1ZM621 686h1V698h-1ZM625 686h1V697h-1ZM629 686h1V696h-1ZM633 686h1V695h-1ZM637 686h1V694h-1ZM641 686h1V693h-1ZM645 686h1V693h-1ZM649 686h1V692h-1ZM653 686h1V692h-1ZM657 686h1V692h-1ZM661 686h1V691h-1ZM665 686h1V691h-1ZM669 686h1V690h-1ZM673 686h1V690h-1ZM677 686h1V689h-1ZM681 686h1V687h-1ZM685 686h1V687h-1ZM689 685h1V687h-1ZM693 684h1V687h-1ZM697 683h1V687h-1ZM701 682h1V687h-1ZM705 681h1V687h-1ZM709 680h1V687h-1ZM713 680h1V687h-1ZM717 679h1V687h-1ZM721 678h1V687h-1ZM725 677h1V687h-1ZM729 677h1V687h-1ZM733 676h1V687h-1ZM737 676h1V687h-1ZM741 676h1V687h-1ZM745 676h1V687h-1ZM749 677h1V687h-1ZM753 678h1V687h-1ZM757 678h1V687h-1ZM761 679h1V687h-1ZM765 680h1V687h-1ZM769 680h1V687h-1ZM773 681h1V687h-1ZM777 682h1V687h-1ZM781 683h1V687h-1ZM785 683h1V687h-1ZM789 683h1V687h-1ZM793 683h1V687h-1ZM797 682h1V687h-1ZM801 681h1V687h-1ZM805 679h1V687h-1ZM809 678h1V687h-1ZM813 678h1V687h-1ZM817 678h1V687h-1ZM821 678h1V687h-1ZM825 678h1V687h-1ZM829 677h1V687h-1ZM833 677h1V687h-1ZM837 675h1V687h-1ZM841 671h1V687h-1ZM845 668h1V687h-1ZM849 664h1V687h-1ZM853 659h1V687h-1ZM857 657h1V687h-1ZM861 655h1V687h-1ZM865 651h1V687h-1ZM869 643h1V687h-1ZM873 638h1V687h-1ZM877 636h1V687h-1ZM881 635h1V687h-1ZM885 633h1V687h-1ZM889 632h1V687h-1ZM893 635h1V687h-1ZM897 641h1V687h-1ZM901 646h1V687h-1ZM905 653h1V687h-1ZM909 655h1V687h-1ZM913 658h1V687h-1ZM917 659h1V687h-1ZM921 661h1V687h-1ZM925 663h1V687h-1ZM929 665h1V687h-1ZM933 667h1V687h-1ZM937 671h1V687h-1ZM941 673h1V687h-1ZM945 676h1V687h-1ZM949 678h1V687h-1ZM953 681h1V687h-1ZM957 682h1V687h-1ZM961 684h1V687h-1ZM965 683h1V687h-1ZM969 682h1V687h-1ZM973 682h1V687h-1ZM977 683h1V687h-1ZM981 683h1V687h-1ZM985 681h1V687h-1ZM989 680h1V687h-1ZM993 682h1V687h-1ZM997 681h1V687h-1ZM1001 681h1V687h-1ZM1005 682h1V687h-1ZM1009 684h1V687h-1ZM1013 686h1V687h-1ZM1017 686h1V689h-1ZM1021 686h1V687h-1ZM1025 686h1V687h-1ZM1029 685h1V687h-1ZM1033 685h1V687h-1ZM1037 684h1V687h-1ZM1041 685h1V687h-1ZM1045 686h1V688h-1ZM1049 686h1V690h-1ZM1053 686h1V689h-1ZM1057 686h1V689h-1ZM1061 686h1V688h-1ZM1065 686h1V687h-1ZM1069 685h1V687h-1ZM1073 684h1V687h-1ZM1077 686h1V687h-1ZM1081 686h1V689h-1ZM1085 686h1V690h-1ZM1089 686h1V691h-1ZM1093 686h1V690h-1ZM1097 686h1V690h-1ZM1101 686h1V690h-1ZM1105 686h1V692h-1ZM1109 686h1V694h-1ZM1113 686h1V696h-1ZM1117 686h1V697h-1ZM1121 686h1V698h-1ZM1125 686h1V701h-1ZM1129 686h1V704h-1ZM1133 686h1V707h-1ZM1137 686h1V709h-1ZM1141 686h1V711h-1ZM1145 686h1V713h-1ZM1149 686h1V714h-1ZM1153 686h1V714h-1ZM1157 686h1V715h-1ZM1161 686h1V712h-1ZM1165 686h1V710h-1ZM1169 686h1V707h-1ZM1173 686h1V705h-1ZM1177 686h1V704h-1ZM1181 686h1V702h-1ZM1185 686h1V701h-1ZM1189 686h1V699h-1ZM1193 686h1V698h-1ZM1197 686h1V698h-1ZM1201 686h1V698h-1ZM1205 686h1V697h-1ZM1209 686h1V695h-1ZM1213 686h1V692h-1ZM1217 686h1V691h-1ZM1221 686h1V690h-1ZM1225 686h1V690h-1ZM1229 686h1V690h-1ZM1233 686h1V690h-1ZM1237 686h1V691h-1ZM1241 686h1V691h-1ZM1245 686h1V691h-1ZM1249 686h1V691h-1ZM1253 686h1V691h-1ZM1257 686h1V691h-1ZM1261 686h1V691h-1ZM1265 686h1V690h-1ZM1269 686h1V690h-1Z" fill="#c0c0c0"/>
<path d="M5 699h3v1h-3zM11 698h3v1h-3zM17 698h3v1h-3zM23 697h3v1h-3zM29 697h3v1h-3zM35 696h3v1h-3zM41 696h3v1h-3zM47 695h3v1h-3zM53 694h2v1h-2zM55 693h1v1h-1zM59 692h3v1h-3zM65 691h2v1h-2zM67 690h1v1h-1zM71 689h3v1h-3zM77 689h2v1h-2zM79 688h1v1h-1zM83 687h3v1h-3zM89 686h2v1h-2zM91 685h1v1h-1zM95 685h3v1h-3zM101 684h2v1h-2zM103 683h1v1h-1zM107 683h3v1h-3zM113 682h3v1h-3zM119 681h3v1h-3zM125 681h3v1h-3zM131 680h3v1h-3zM137 680h3v1h-3zM143 680h3v1h-3zM149 680h3v1h-3zM155 680h3v1h-3zM161 680h3v1h-3zM167 680h3v1h-3zM173 680h3v1h-3zM179 680h3v1h-3zM185 681h3v1h-3zM191 681h3v1h-3zM197 681h2v1h-2zM199 682h1v1h-1zM203 682h3v1h-3zM209 683h2v1h-2zM211 684h1v1h-1zM215 684h3v1h-3zM221 685h2v1h-2zM223 686h1v1h-1zM227 687h3v1h-3zM233 687h2v1h-2zM235 688h1v1h-1zM239 688h3v1h-3zM245 688h3v1h-3zM251 687h3v1h-3zM257 687h2v1h-2zM259 686h1v1h-1zM263 686h3v1h-3zM269 686h2v1h-2zM271 685h1v1h-1zM275 685h3v1h-3zM281 685h3v1h-3zM287 685h3v1h-3zM293 685h3v1h-3zM299 685h3v1h-3zM305 685h3v1h-3zM311 684h3v1h-3zM317 684h3v1h-3zM323 684h3v1h-3zM329 684h3v1h-3zM335 685h3v1h-3zM341 685h2v1h-2zM343 686h1v1h-1zM347 687h3v1h-3zM353 688h2v1h-2zM355 689h1v1h-1zM359 690h3v1h-3zM365 691h3v1h-3zM371 692h3v1h-3zM377 693h2v1h-2zM379 694h1v1h-1zM383 694h3v1h-3zM389 694h3v1h-3zM395 694h3v1h-3zM401 694h2v1h-2zM403 693h1v1h-1zM407 693h3v1h-3zM413 692h2v1h-2zM415 691h1v1h-1zM419 690h3v1h-3zM425 689h3v1h-3zM431 688h3v1h-3zM437 687h2v1h-2zM439 686h1v1h-1zM443 685h3v1h-3zM449 685h2v1h-2zM451 684h1v1h-1zM455 684h3v1h-3zM461 683h3v1h-3zM467 683h3v1h-3zM473 682h3v1h-3zM479 682h3v1h-3zM485 681h3v1h-3zM491 681h3v1h-3zM497 681h3v1h-3zM503 681h3v1h-3zM509 681h3v1h-3zM515 682h3v1h-3zM521 682h2v1h-2zM523 683h1v1h-1zM527 683h3v1h-3zM533 684h3v1h-3zM539 685h3v1h-3zM545 685h2v1h-2zM547 686h1v1h-1zM551 686h3v1h-3zM557 687h2v1h-2zM559 688h1v1h-1zM563 688h3v1h-3zM569 689h3v1h-3zM575 690h3v1h-3zM581 690h3v1h-3zM587 690h3v1h-3zM593 691h3v1h-3zM599 691h3v1h-3zM605 692h3v1h-3zM611 693h3v1h-3zM617 694h2v1h-2zM619 695h1v1h-1zM623 695h3v1h-3zM629 696h3v1h-3zM635 696h3v1h-3zM641 695h3v1h-3zM647 694h3v1h-3zM653 694h2v1h-2zM655 693h1v1h-1zM659 692h3v1h-3zM665 691h3v1h-3zM671 690h3v1h-3zM677 690h2v1h-2zM679 689h1v1h-1zM683 689h3v1h-3zM689 688h2v1h-2zM691 687h1v1h-1zM695 687h3v1h-3zM701 686h2v1h-2zM703 685h1v1h-1zM707 684h3v1h-3zM713 683h2v1h-2zM715 682h1v1h-1zM719 681h3v1h-3zM725 680h3v1h-3zM731 679h3v1h-3zM737 678h3v1h-3zM743 677h3v1h-3zM749 677h3v1h-3zM755 677h3v1h-3zM761 677h3v1h-3zM767 678h3v1h-3zM773 678h2v1h-2zM775 679h1v1h-1zM779 680h3v1h-3zM785 681h3v1h-3zM791 682h3v1h-3zM797 682h3v1h-3zM803 682h3v1h-3zM809 682h2v1h-2zM811 681h1v1h-1zM815 681h3v1h-3zM821 680h3v1h-3zM827 679h3v1h-3zM833 678h3v1h-3zM839 677h3v1h-3zM845 675h2v1h-2zM847 674h1v1h-1zM851 673h1v1h-1zM852 672h2v1h-2zM857 670h1v1h-1zM858 669h1v1h-1zM859 668h1v1h-1zM863 665h2v1h-2zM865 664h1v1h-1zM869 660h1v1h-1zM870 659h1v1h-1zM871 658h1v1h-1zM875 654h1v1h-1zM876 653h1v1h-1zM877 652h1v1h-1zM881 649h1v1h-1zM882 648h1v1h-1zM883 647h1v1h-1zM887 643h2v1h-2zM889 642h1v1h-1zM893 640h1v1h-1zM894 639h2v1h-2zM899 638h3v1h-3zM905 639h1v1h-1zM906 640h2v1h-2zM911 642h1v1h-1zM912 643h2v1h-2zM917 646h1v1h-1zM918 647h1v1h-1zM919 648h1v1h-1zM923 651h2v1h-2zM925 652h1v1h-1zM929 656h1v1h-1zM930 657h1v1h-1zM931 658h1v1h-1zM935 660h1v1h-1zM936 661h2v1h-2zM941 664h1v1h-1zM942 665h2v1h-2zM947 667h1v1h-1zM948 668h2v1h-2zM953 671h1v1h-1zM954 672h2v1h-2zM959 674h1v1h-1zM960 675h2v1h-2zM965 677h1v1h-1zM966 678h2v1h-2zM971 680h3v1h-3zM977 681h2v1h-2zM979 682h1v1h-1zM983 682h3v1h-3zM989 682h3v1h-3zM995 682h3v1h-3zM1001 682h3v1h-3zM1007 682h3v1h-3zM1013 682h2v1h-2zM1015 683h1v1h-1zM1019 683h3v1h-3zM1025 684h3v1h-3zM1031 685h3v1h-3zM1037 685h3v1h-3zM1043 686h3v1h-3zM1049 686h3v1h-3zM1055 686h3v1h-3zM1061 687h3v1h-3zM1067 687h3v1h-3zM1073 687h3v1h-3zM1079 687h3v1h-3zM1085 687h3v1h-3zM1091 687h3v1h-3zM1097 687h2v1h-2zM1099 688h1v1h-1zM1103 688h3v1h-3zM1109 689h2v1h-2zM1111 690h1v1h-1zM1115 691h3v1h-3zM1121 692h2v1h-2zM1123 693h1v1h-1zM1127 694h1v1h-1zM1128 695h2v1h-2zM1133 697h1v1h-1zM1134 698h2v1h-2zM1139 700h1v1h-1zM1140 701h2v1h-2zM1145 703h1v1h-1zM1146 704h2v1h-2zM1151 706h1v1h-1zM1152 707h2v1h-2zM1157 709h2v1h-2zM1159 710h1v1h-1zM1163 711h3v1h-3zM1169 711h2v1h-2zM1171 710h1v1h-1zM1175 709h3v1h-3zM1181 708h2v1h-2zM1183 707h1v1h-1zM1187 706h1v1h-1zM1188 705h2v1h-2zM1193 703h2v1h-2zM1195 702h1v1h-1zM1199 701h1v1h-1zM1200 700h2v1h-2zM1205 699h2v1h-2zM1207 698h1v1h-1zM1211 697h3v1h-3zM1217 696h1v1h-1zM1218 695h2v1h-2zM1223 693h3v1h-3zM1229 692h3v1h-3zM1235 691h3v1h-3zM1241 690h3v1h-3zM1247 690h3v1h-3zM1253 690h3v1h-3zM1259 690h3v1h-3zM1265 690h3v1h-3z" fill="#ff0000"/>
<rect x="5" y="719" width="1" height="3" fill="#000"/>
<rect x="69" y="719" width="1" height="3" fill="#000"/>
<rect x="133" y="719" width="1" height="3" fill="#000"/>
<rect x="197" y="719" width="1" height="3" fill="#000"/>
<rect x="261" y="719" width="1" height="3" fill="#000"/>
<rect x="325" y="719" width="1" height="3" fill="#000"/>
<rect x="389" y="719" width="1" height="3" fill="#000"/>
<rect x="453" y="719" width="1" height="3" fill="#000"/>
<rect x="517" y="719" width="1" height="3" fill="#000"/>
<rect x="581" y="719" width="1" height="3" fill="#000"/>
<rect x="645" y="719" width="1" height="3" fill="#000"/>
<rect x="709" y="719" width="1" height="3" fill="#000"/>
<rect x="773" y="719" width="1" height="3" fill="#000"/>
<rect x="837" y="719" width="1" height="3" fill="#000"/>
<rect x="901" y="719" width="1" height="3" fill="#000"/>
<rect x="965" y="719" width="1" height="3" fill="#000"/>
<rect x="1029" y="719" width="1" height="3" fill="#000"/>
<rect x="1093" y="719" width="1" height="3" fill="#000"/>
<rect x="1157" y="719" width="1" height="3" fill="#000"/>
<rect x="1221" y="719" width="1" height="3" fill="#000"/>
</svg>
<svg width="20" height="40" viewBox="0 0 20 40" shape-rendering="crispEdges"><path d="M8 31h7v1h-7zM9 32h5v1h-5zM10 33h3v1h-3zM11 34h1v1h-1z" fill="#000"/></svg>
<div class="a g" style="left:19.74px;top:28px;transform:scaleX(0.9813);color:#000;-webkit-text-stroke-color:#000;">USDCAD,Daily</div>
<div class="a g" style="left:91.90px;top:28px;transform:scaleX(0.9234);color:#000;-webkit-text-stroke-color:#000;">1.35848 1.36014 1.35840 1.35868</div>
<div class="a g" style="left:8.83px;top:537px;transform:scaleX(0.9330);color:#000;-webkit-text-stroke-color:#000;">RSI(14)</div>
<div class="a g" style="left:43.69px;top:537px;transform:scaleX(0.9330);color:#000;-webkit-text-stroke-color:#000;">48.0746</div>
<div class="a g" style="left:8.46px;top:631px;transform:scaleX(0.9592);color:#000;-webkit-text-stroke-color:#000;">MACD(12,26,9)</div>
<div class="a g" style="left:77.89px;top:631px;transform:scaleX(0.9162);color:#000;-webkit-text-stroke-color:#000;">-0.001750</div>
<div class="a g" style="left:122.09px;top:631px;transform:scaleX(0.9142);color:#000;-webkit-text-stroke-color:#000;">-0.002224</div>
<div class="a g" style="left:1602.79px;top:28px;transform:scaleX(0.9295);color:#000;-webkit-text-stroke-color:#000;">1.47305</div>
<div class="a g" style="left:1602.79px;top:61px;transform:scaleX(0.9287);color:#000;-webkit-text-stroke-color:#000;">1.46080</div>
<div class="a g" style="left:1602.79px;top:94px;transform:scaleX(0.9287);color:#000;-webkit-text-stroke-color:#000;">1.44890</div>
<div class="a g" style="left:1602.79px;top:127px;transform:scaleX(0.9295);color:#000;-webkit-text-stroke-color:#000;">1.43665</div>
<div class="a g" style="left:1602.79px;top:160px;transform:scaleX(0.9287);color:#000;-webkit-text-stroke-color:#000;">1.42440</div>
<div class="a g" style="left:1602.79px;top:193px;transform:scaleX(0.9287);color:#000;-webkit-text-stroke-color:#000;">1.41250</div>
<div class="a g" style="left:1602.79px;top:226px;transform:scaleX(0.9295);color:#000;-webkit-text-stroke-color:#000;">1.40025</div>
<div class="a g" style="left:1602.79px;top:259px;transform:scaleX(0.9295);color:#000;-webkit-text-stroke-color:#000;">1.38835</div>
<div class="a g" style="left:1602.79px;top:292px;transform:scaleX(0.9287);color:#000;-webkit-text-stroke-color:#000;">1.37610</div>
<div class="a g" style="left:1602.79px;top:325px;transform:scaleX(0.9287);color:#000;-webkit-text-stroke-color:#000;">1.36420</div>
<div class="a g" style="left:1602.79px;top:358px;transform:scaleX(0.9295);color:#000;-webkit-text-stroke-color:#000;">1.35195</div>
<div class="a g" style="left:1602.79px;top:391px;transform:scaleX(0.9295);color:#000;-webkit-text-stroke-color:#000;">1.34005</div>
<div class="a g" style="left:1602.79px;top:424px;transform:scaleX(0.9287);color:#000;-webkit-text-stroke-color:#000;">1.32780</div>
<div class="a g" style="left:1602.79px;top:457px;transform:scaleX(0.9287);color:#000;-webkit-text-stroke-color:#000;">1.31590</div>
<div class="a g" style="left:1602.79px;top:490px;transform:scaleX(0.9295);color:#000;-webkit-text-stroke-color:#000;">1.30365</div>
<div class="a g" style="left:1602.79px;top:523px;transform:scaleX(0.9295);color:#000;-webkit-text-stroke-color:#000;">1.29175</div>
<div class="a g" style="left:1600.58px;top:535px;transform:scaleX(0.9464);color:#000;-webkit-text-stroke-color:#000;">100</div>
<div class="a g" style="left:1599.50px;top:556px;transform:scaleX(0.9785);color:#000;-webkit-text-stroke-color:#000;">70</div>
<div class="a g" style="left:1599.63px;top:592px;transform:scaleX(0.9660);color:#000;-webkit-text-stroke-color:#000;">30</div>
<div class="a g" style="left:1600.58px;top:613px;transform:scaleX(1.0878);color:#000;-webkit-text-stroke-color:#000;">0</div>
<div class="a g" style="left:1600.64px;top:629px;transform:scaleX(0.9200);color:#000;-webkit-text-stroke-color:#000;">0.032972</div>
<div class="a g" style="left:1600.62px;top:682px;transform:scaleX(0.9635);color:#000;-webkit-text-stroke-color:#000;">0.00</div>
<div class="a g" style="left:1600.59px;top:707px;transform:scaleX(0.9200);color:#000;-webkit-text-stroke-color:#000;">-0.018154</div>
<div style="position:absolute;left:1599px;top:339px;width:40px;height:11px;background:#000"></div>
<div class="a g" style="left:1602.79px;top:340px;transform:scaleX(0.9299);color:#fff;-webkit-text-stroke-color:#fff;">1.35868</div>
<div style="position:absolute;left:1599px;top:196px;width:40px;height:11px;background:#ff0000"></div>
<div class="a g" style="left:1602.79px;top:197px;transform:scaleX(0.9287);color:#fff;-webkit-text-stroke-color:#fff;">1.41060</div>
<div style="position:absolute;left:1599px;top:267px;width:40px;height:11px;background:#ff0000"></div>
<div class="a g" style="left:1602.79px;top:268px;transform:scaleX(0.9261);color:#fff;-webkit-text-stroke-color:#fff;">1.38464</div>
<div style="position:absolute;left:1599px;top:334px;width:40px;height:11px;background:#00ff00"></div>
<div class="a g" style="left:1602.79px;top:335px;transform:scaleX(0.9295);color:#fff;-webkit-text-stroke-color:#fff;">1.36015</div>
<div style="position:absolute;left:1599px;top:416px;width:40px;height:11px;background:#0000ff"></div>
<div class="a g" style="left:1602.79px;top:417px;transform:scaleX(0.9313);color:#fff;-webkit-text-stroke-color:#fff;">1.33011</div>
<div style="position:absolute;left:1599px;top:498px;width:40px;height:11px;background:#0000ff"></div>
<div class="a g" style="left:1602.79px;top:499px;transform:scaleX(0.9287);color:#fff;-webkit-text-stroke-color:#fff;">1.30020</div>
<div class="a g" style="left:3.81px;top:723px;transform:scaleX(0.9120);color:#000;-webkit-text-stroke-color:#000;">10 Jul 2019</div>
<div class="a g" style="left:68.04px;top:723px;transform:scaleX(0.9120);color:#000;-webkit-text-stroke-color:#000;">29 Jul 2019</div>
<div class="a g" style="left:131.81px;top:723px;transform:scaleX(0.9120);color:#000;-webkit-text-stroke-color:#000;">16 Aug 2019</div>
<div class="a g" style="left:196.29px;top:723px;transform:scaleX(0.9120);color:#000;-webkit-text-stroke-color:#000;">4 Sep 2019</div>
<div class="a g" style="left:260.04px;top:723px;transform:scaleX(0.9120);color:#000;-webkit-text-stroke-color:#000;">23 Sep 2019</div>
<div class="a g" style="left:323.81px;top:723px;transform:scaleX(0.9120);color:#000;-webkit-text-stroke-color:#000;">11 Oct 2019</div>
<div class="a g" style="left:388.15px;top:723px;transform:scaleX(0.9120);color:#000;-webkit-text-stroke-color:#000;">30 Oct 2019</div>
<div class="a g" style="left:451.81px;top:723px;transform:scaleX(0.9120);color:#000;-webkit-text-stroke-color:#000;">18 Nov 2019</div>
<div class="a g" style="left:516.04px;top:723px;transform:scaleX(0.9120);color:#000;-webkit-text-stroke-color:#000;">6 Dec 2019</div>
<div class="a g" style="left:580.04px;top:723px;transform:scaleX(0.9120);color:#000;-webkit-text-stroke-color:#000;">25 Dec 2019</div>
<div class="a g" style="left:643.81px;top:723px;transform:scaleX(0.9120);color:#000;-webkit-text-stroke-color:#000;">13 Jan 2020</div>
<div class="a g" style="left:708.15px;top:723px;transform:scaleX(0.9120);color:#000;-webkit-text-stroke-color:#000;">31 Jan 2020</div>
<div class="a g" style="left:771.81px;top:723px;transform:scaleX(0.9120);color:#000;-webkit-text-stroke-color:#000;">19 Feb 2020</div>
<div class="a g" style="left:836.07px;top:723px;transform:scaleX(0.9120);color:#000;-webkit-text-stroke-color:#000;">9 Mar 2020</div>
<div class="a g" style="left:900.04px;top:723px;transform:scaleX(0.9120);color:#000;-webkit-text-stroke-color:#000;">27 Mar 2020</div>
<div class="a g" style="left:963.81px;top:723px;transform:scaleX(0.9120);color:#000;-webkit-text-stroke-color:#000;">15 Apr 2020</div>
<div class="a g" style="left:1028.29px;top:723px;transform:scaleX(0.9120);color:#000;-webkit-text-stroke-color:#000;">4 May 2020</div>
<div class="a g" style="left:1092.04px;top:723px;transform:scaleX(0.9120);color:#000;-webkit-text-stroke-color:#000;">22 May 2020</div>
<div class="a g" style="left:1155.81px;top:723px;transform:scaleX(0.9120);color:#000;-webkit-text-stroke-color:#000;">10 Jun 2020</div>
<div class="a g" style="left:1220.04px;top:723px;transform:scaleX(0.9120);color:#000;-webkit-text-stroke-color:#000;">29 Jun 2020</div>
<div style="position:absolute;left:0px;top:739px;width:1639px;height:1px;background:#e3e3e3"></div>
<div style="position:absolute;left:0px;top:740px;width:1639px;height:1px;background:#fff"></div>
<div style="position:absolute;left:0px;top:741px;width:1639px;height:1px;background:#000"></div>
<div style="position:absolute;left:0px;top:742px;width:1639px;height:1px;background:#fff"></div>
<div style="position:absolute;left:0px;top:743px;width:1639px;height:18px;background:#f0f0f0"></div>
<div style="position:absolute;left:0px;top:761px;width:1639px;height:1px;background:#fff"></div>
<div style="position:absolute;left:0px;top:762px;width:1639px;height:2px;background:#f0f0f0"></div>
<div style="position:absolute;left:0px;top:764px;width:1639px;height:1px;background:#f8f8f8"></div>
<div style="position:absolute;left:0px;top:765px;width:1639px;height:1px;background:#a0a0a0"></div>
<div style="position:absolute;left:0px;top:766px;width:1639px;height:1px;background:#fff"></div>
<div style="position:absolute;left:0px;top:742px;width:1px;height:19px;background:#a0a0a0"></div>
<div style="position:absolute;left:1px;top:742px;width:1px;height:19px;background:#696969"></div>
<div style="position:absolute;left:313px;top:742px;width:1px;height:18px;background:#fff"></div>
<div style="position:absolute;left:419px;top:742px;width:1px;height:18px;background:#fff"></div>
<div style="position:absolute;left:314px;top:741px;width:104px;height:19px;background:#000"></div>
<div style="position:absolute;left:315px;top:741px;width:102px;height:18px;background:#fff"></div>
<div style="position:absolute;left:418px;top:760px;width:1px;height:1px;background:#a0a0a0"></div>
<div class="a" style="left:17.62px;top:745px;font-size:12px;line-height:14px;height:14px;letter-spacing:-0.025px;color:#5f5f5f;">EURUSD,Daily</div>
<div class="a" style="left:119.47px;top:745px;font-size:12px;line-height:14px;height:14px;letter-spacing:-0.060px;color:#5f5f5f;">USDCHF,Daily</div>
<div class="a" style="left:221.38px;top:745px;font-size:12px;line-height:14px;height:14px;letter-spacing:0.088px;color:#5f5f5f;">AUDUSD,Daily</div>
<div class="a" style="left:324.47px;top:745px;font-size:12px;line-height:14px;height:14px;letter-spacing:0.079px;color:#000;">USDCAD,Daily</div>
<div class="a" style="left:427.47px;top:745px;font-size:12px;line-height:14px;height:14px;letter-spacing:0.201px;color:#5f5f5f;">USDCNH,Daily</div>
<div class="a" style="left:532.52px;top:745px;font-size:12px;line-height:14px;height:14px;letter-spacing:0.149px;color:#5f5f5f;">EURUSD,M15</div>
<div class="a" style="left:632.90px;top:745px;font-size:12px;line-height:14px;height:14px;letter-spacing:0.091px;color:#5f5f5f;">GBPUSD,M30</div>
<div class="a" style="left:732.73px;top:745px;font-size:12px;line-height:14px;height:14px;letter-spacing:0.152px;color:#5f5f5f;">XAUUSD,Daily</div>
<div class="a" style="left:836.42px;top:745px;font-size:12px;line-height:14px;height:14px;letter-spacing:0.346px;color:#5f5f5f;">HK50,H1</div>
<div class="a" style="left:908.27px;top:745px;font-size:12px;line-height:14px;height:14px;letter-spacing:0.364px;color:#5f5f5f;">UK100,H1</div>
<div class="a" style="left:988.07px;top:745px;font-size:12px;line-height:14px;height:14px;letter-spacing:0.378px;color:#5f5f5f;">UK100,H1</div>
<div class="a" style="left:1068.40px;top:745px;font-size:12px;line-height:14px;height:14px;letter-spacing:-0.048px;color:#5f5f5f;">GER30,H1</div>
<div class="a" style="left:1147.32px;top:745px;font-size:12px;line-height:14px;height:14px;letter-spacing:-0.050px;color:#5f5f5f;">FRA40,H1</div>
<div class="a" style="left:1223.07px;top:745px;font-size:12px;line-height:14px;height:14px;letter-spacing:0.261px;color:#5f5f5f;">USOil,Daily</div>
<div class="a" style="left:1307.07px;top:745px;font-size:12px;line-height:14px;height:14px;letter-spacing:-0.226px;color:#5f5f5f;">USDJPY,H1</div>
<div class="a" style="left:1392.02px;top:745px;font-size:12px;line-height:14px;height:14px;letter-spacing:0.500px;color:#5f5f5f;">DJ30,M15</div>
<div class="a g" style="left:43.67px;top:4px;transform:scaleX(1.0172);color:#3c3c3c;-webkit-text-stroke-color:#3c3c3c;-webkit-text-stroke-width:0.08px;">M1</div>
<div class="a g" style="left:71.77px;top:4px;transform:scaleX(1.0117);color:#3c3c3c;-webkit-text-stroke-color:#3c3c3c;-webkit-text-stroke-width:0.08px;">M5</div>
<div class="a g" style="left:97.81px;top:4px;transform:scaleX(0.9663);color:#3c3c3c;-webkit-text-stroke-color:#3c3c3c;-webkit-text-stroke-width:0.08px;">M15</div>
<div class="a g" style="left:125.81px;top:4px;transform:scaleX(0.9648);color:#3c3c3c;-webkit-text-stroke-color:#3c3c3c;-webkit-text-stroke-width:0.08px;">M30</div>
<div class="a g" style="left:156.55px;top:4px;transform:scaleX(1.0371);color:#3c3c3c;-webkit-text-stroke-color:#3c3c3c;-webkit-text-stroke-width:0.08px;">H1</div>
<div class="a g" style="left:183.84px;top:4px;transform:scaleX(1.0540);color:#3c3c3c;-webkit-text-stroke-color:#3c3c3c;-webkit-text-stroke-width:0.08px;">H4</div>
<div class="a g" style="left:212.65px;top:4px;transform:scaleX(1.0371);color:#3c3c3c;-webkit-text-stroke-color:#3c3c3c;-webkit-text-stroke-width:0.08px;">D1</div>
<div class="a g" style="left:240.96px;top:4px;transform:scaleX(0.9815);color:#3c3c3c;-webkit-text-stroke-color:#3c3c3c;-webkit-text-stroke-width:0.08px;">W1</div>
<div class="a g" style="left:266.84px;top:4px;transform:scaleX(1.0492);color:#3c3c3c;-webkit-text-stroke-color:#3c3c3c;-webkit-text-stroke-width:0.08px;">MN</div>
<div class="sep" style="left:110px"></div>
<div class="sep" style="left:210px"></div>
<div class="sep" style="left:522px"></div>
<div class="sep" style="left:622px"></div>
<div class="sep" style="left:722px"></div>
<div class="sep" style="left:826px"></div>
<div class="sep" style="left:898px"></div>
<div class="sep" style="left:978px"></div>
<div class="sep" style="left:1058px"></div>
<div class="sep" style="left:1138px"></div>
<div class="sep" style="left:1214px"></div>
<div class="sep" style="left:1298px"></div>
<div class="sep" style="left:1382px"></div>
<div class="sep" style="left:1462px"></div>
<svg width="1639" height="767" viewBox="0 0 1639 767"><path d="M1616 747 L1616 753 L1613 750Z M1632 747 L1632 753 L1635 750Z" fill="#8c8c8c"/></svg>
</body></html>
